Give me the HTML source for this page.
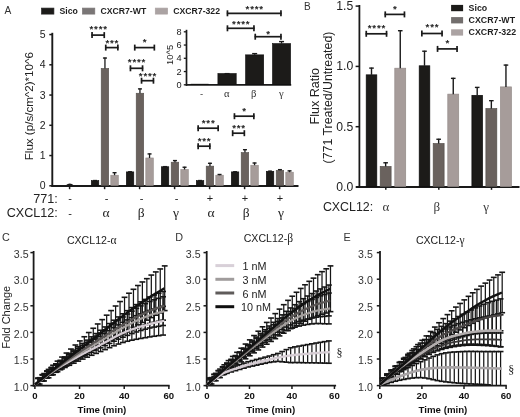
<!DOCTYPE html>
<html><head><meta charset="utf-8"><title>Figure</title>
<style>html,body{margin:0;padding:0;background:#fff;width:520px;height:417px;overflow:hidden}svg{display:block;font-family:"Liberation Sans",sans-serif}text{filter:grayscale(1)}</style>
</head><body>
<svg width="520" height="417" viewBox="0 0 520 417">
<rect width="520" height="417" fill="#ffffff"/>
<text x="4.6" y="14" font-size="10.2" fill="#333">A</text>
<rect x="41.6" y="8.1" width="12.3" height="6" fill="#1c1b19" stroke="#222" stroke-width="0.7"/>
<text x="59.5" y="14.3" font-size="8.7" font-weight="bold" fill="#1e1e1e">Sico</text>
<rect x="82.5" y="8.1" width="12.3" height="6" fill="#7a7676" stroke="#7a7676" stroke-width="0.7"/>
<text x="100.4" y="14.3" font-size="8.7" font-weight="bold" fill="#1e1e1e">CXCR7-WT</text>
<rect x="155.3" y="8.1" width="12.3" height="6" fill="#aba3a3" stroke="#aba3a3" stroke-width="0.7"/>
<text x="173.2" y="14.3" font-size="8.7" font-weight="bold" fill="#1e1e1e">CXCR7-322</text>
<line x1="52.3" y1="32.8" x2="52.3" y2="187" stroke="#1a1a1a" stroke-width="1.9" />
<line x1="51.4" y1="186" x2="298.5" y2="186" stroke="#1a1a1a" stroke-width="1.9" />
<line x1="49.3" y1="185.8" x2="52.3" y2="185.8" stroke="#1a1a1a" stroke-width="1.5" />
<text x="45.6" y="189.3" font-size="10.5" text-anchor="end" fill="#222">0</text>
<line x1="49.3" y1="155.55" x2="52.3" y2="155.55" stroke="#1a1a1a" stroke-width="1.5" />
<text x="45.6" y="159.05" font-size="10.5" text-anchor="end" fill="#222">1</text>
<line x1="49.3" y1="125.3" x2="52.3" y2="125.3" stroke="#1a1a1a" stroke-width="1.5" />
<text x="45.6" y="128.8" font-size="10.5" text-anchor="end" fill="#222">2</text>
<line x1="49.3" y1="95.05" x2="52.3" y2="95.05" stroke="#1a1a1a" stroke-width="1.5" />
<text x="45.6" y="98.55" font-size="10.5" text-anchor="end" fill="#222">3</text>
<line x1="49.3" y1="64.8" x2="52.3" y2="64.8" stroke="#1a1a1a" stroke-width="1.5" />
<text x="45.6" y="68.3" font-size="10.5" text-anchor="end" fill="#222">4</text>
<line x1="49.3" y1="34.55" x2="52.3" y2="34.55" stroke="#1a1a1a" stroke-width="1.5" />
<text x="45.6" y="38.05" font-size="10.5" text-anchor="end" fill="#222">5</text>
<text x="33" y="106.2" font-size="11.6" text-anchor="middle" fill="#222" transform="rotate(-90 33 106.2)">Flux (p/s/cm^2)*10^6</text>
<line x1="69.6" y1="186" x2="69.6" y2="189.2" stroke="#1a1a1a" stroke-width="1.5" />
<path d="M65.6 185.5 Q69.7 181.4 74.0 185.5 Z" fill="#1a1a1a"/>
<line x1="104.6" y1="186" x2="104.6" y2="189.2" stroke="#1a1a1a" stroke-width="1.5" />
<rect x="91.3" y="180.66" width="7.5" height="4.84" fill="#1c1b19" stroke="#0b0b0b" stroke-width="0.6"/>
<line x1="95.05" y1="180.66" x2="95.05" y2="180.05" stroke="#1a1a1a" stroke-width="1.3" />
<line x1="93.05" y1="180.55" x2="97.05" y2="180.55" stroke="#1a1a1a" stroke-width="1.4" />
<rect x="101.2" y="68.43" width="7.5" height="117.07" fill="#6a625e" stroke="#55504c" stroke-width="0.6"/>
<line x1="104.95" y1="68.43" x2="104.95" y2="57.54" stroke="#1a1a1a" stroke-width="1.3" />
<line x1="102.95" y1="58.04" x2="106.95" y2="58.04" stroke="#1a1a1a" stroke-width="1.4" />
<rect x="110.8" y="175.21" width="7.5" height="10.29" fill="#a69c9a" stroke="#938a88" stroke-width="0.6"/>
<line x1="114.55" y1="175.21" x2="114.55" y2="172.19" stroke="#1a1a1a" stroke-width="1.3" />
<line x1="112.55" y1="172.69" x2="116.55" y2="172.69" stroke="#1a1a1a" stroke-width="1.4" />
<line x1="139.6" y1="186" x2="139.6" y2="189.2" stroke="#1a1a1a" stroke-width="1.5" />
<rect x="126.3" y="171.89" width="7.5" height="13.61" fill="#1c1b19" stroke="#0b0b0b" stroke-width="0.6"/>
<line x1="130.05" y1="171.89" x2="130.05" y2="171.28" stroke="#1a1a1a" stroke-width="1.3" />
<line x1="128.05" y1="171.78" x2="132.05" y2="171.78" stroke="#1a1a1a" stroke-width="1.4" />
<rect x="136.2" y="93.24" width="7.5" height="92.26" fill="#6a625e" stroke="#55504c" stroke-width="0.6"/>
<line x1="139.95" y1="93.24" x2="139.95" y2="88.4" stroke="#1a1a1a" stroke-width="1.3" />
<line x1="137.95" y1="88.9" x2="141.95" y2="88.9" stroke="#1a1a1a" stroke-width="1.4" />
<rect x="145.8" y="157.97" width="7.5" height="27.53" fill="#a69c9a" stroke="#938a88" stroke-width="0.6"/>
<line x1="149.55" y1="157.97" x2="149.55" y2="153.43" stroke="#1a1a1a" stroke-width="1.3" />
<line x1="147.55" y1="153.93" x2="151.55" y2="153.93" stroke="#1a1a1a" stroke-width="1.4" />
<line x1="174.6" y1="186" x2="174.6" y2="189.2" stroke="#1a1a1a" stroke-width="1.5" />
<rect x="161.3" y="166.74" width="7.5" height="18.76" fill="#1c1b19" stroke="#0b0b0b" stroke-width="0.6"/>
<line x1="165.05" y1="166.74" x2="165.05" y2="166.14" stroke="#1a1a1a" stroke-width="1.3" />
<line x1="163.05" y1="166.64" x2="167.05" y2="166.64" stroke="#1a1a1a" stroke-width="1.4" />
<rect x="171.2" y="162.21" width="7.5" height="23.29" fill="#6a625e" stroke="#55504c" stroke-width="0.6"/>
<line x1="174.95" y1="162.21" x2="174.95" y2="160.09" stroke="#1a1a1a" stroke-width="1.3" />
<line x1="172.95" y1="160.59" x2="176.95" y2="160.59" stroke="#1a1a1a" stroke-width="1.4" />
<rect x="180.8" y="169.47" width="7.5" height="16.03" fill="#a69c9a" stroke="#938a88" stroke-width="0.6"/>
<line x1="184.55" y1="169.47" x2="184.55" y2="166.74" stroke="#1a1a1a" stroke-width="1.3" />
<line x1="182.55" y1="167.24" x2="186.55" y2="167.24" stroke="#1a1a1a" stroke-width="1.4" />
<line x1="209.6" y1="186" x2="209.6" y2="189.2" stroke="#1a1a1a" stroke-width="1.5" />
<rect x="196.3" y="180.66" width="7.5" height="4.84" fill="#1c1b19" stroke="#0b0b0b" stroke-width="0.6"/>
<line x1="200.05" y1="180.66" x2="200.05" y2="180.05" stroke="#1a1a1a" stroke-width="1.3" />
<line x1="198.05" y1="180.55" x2="202.05" y2="180.55" stroke="#1a1a1a" stroke-width="1.4" />
<rect x="206.2" y="166.14" width="7.5" height="19.36" fill="#6a625e" stroke="#55504c" stroke-width="0.6"/>
<line x1="209.95" y1="166.14" x2="209.95" y2="162.81" stroke="#1a1a1a" stroke-width="1.3" />
<line x1="207.95" y1="163.31" x2="211.95" y2="163.31" stroke="#1a1a1a" stroke-width="1.4" />
<rect x="215.8" y="175.21" width="7.5" height="10.29" fill="#a69c9a" stroke="#938a88" stroke-width="0.6"/>
<line x1="219.55" y1="175.21" x2="219.55" y2="174" stroke="#1a1a1a" stroke-width="1.3" />
<line x1="217.55" y1="174.5" x2="221.55" y2="174.5" stroke="#1a1a1a" stroke-width="1.4" />
<line x1="244.6" y1="186" x2="244.6" y2="189.2" stroke="#1a1a1a" stroke-width="1.5" />
<rect x="231.3" y="171.89" width="7.5" height="13.61" fill="#1c1b19" stroke="#0b0b0b" stroke-width="0.6"/>
<line x1="235.05" y1="171.89" x2="235.05" y2="171.28" stroke="#1a1a1a" stroke-width="1.3" />
<line x1="233.05" y1="171.78" x2="237.05" y2="171.78" stroke="#1a1a1a" stroke-width="1.4" />
<rect x="241.2" y="152.53" width="7.5" height="32.97" fill="#6a625e" stroke="#55504c" stroke-width="0.6"/>
<line x1="244.95" y1="152.53" x2="244.95" y2="149.2" stroke="#1a1a1a" stroke-width="1.3" />
<line x1="242.95" y1="149.7" x2="246.95" y2="149.7" stroke="#1a1a1a" stroke-width="1.4" />
<rect x="250.8" y="165.23" width="7.5" height="20.27" fill="#a69c9a" stroke="#938a88" stroke-width="0.6"/>
<line x1="254.55" y1="165.23" x2="254.55" y2="162.51" stroke="#1a1a1a" stroke-width="1.3" />
<line x1="252.55" y1="163.01" x2="256.55" y2="163.01" stroke="#1a1a1a" stroke-width="1.4" />
<line x1="279.6" y1="186" x2="279.6" y2="189.2" stroke="#1a1a1a" stroke-width="1.5" />
<rect x="266.3" y="171.28" width="7.5" height="14.22" fill="#1c1b19" stroke="#0b0b0b" stroke-width="0.6"/>
<line x1="270.05" y1="171.28" x2="270.05" y2="170.68" stroke="#1a1a1a" stroke-width="1.3" />
<line x1="268.05" y1="171.18" x2="272.05" y2="171.18" stroke="#1a1a1a" stroke-width="1.4" />
<rect x="276.2" y="170.37" width="7.5" height="15.13" fill="#6a625e" stroke="#55504c" stroke-width="0.6"/>
<line x1="279.95" y1="170.37" x2="279.95" y2="169.16" stroke="#1a1a1a" stroke-width="1.3" />
<line x1="277.95" y1="169.66" x2="281.95" y2="169.66" stroke="#1a1a1a" stroke-width="1.4" />
<rect x="285.8" y="172.19" width="7.5" height="13.31" fill="#a69c9a" stroke="#938a88" stroke-width="0.6"/>
<line x1="289.55" y1="172.19" x2="289.55" y2="170.37" stroke="#1a1a1a" stroke-width="1.3" />
<line x1="287.55" y1="170.87" x2="291.55" y2="170.87" stroke="#1a1a1a" stroke-width="1.4" />
<line x1="91.4" y1="35.1" x2="104.9" y2="35.1" stroke="#1a1a1a" stroke-width="1.7" />
<line x1="92.05" y1="32.1" x2="92.05" y2="38.1" stroke="#1a1a1a" stroke-width="1.7" />
<line x1="104.25" y1="32.1" x2="104.25" y2="38.1" stroke="#1a1a1a" stroke-width="1.7" />
<text x="98.65" y="31.6" font-size="9.8" text-anchor="middle" fill="#111" letter-spacing="0.75" stroke="#222" stroke-width="0.25">****</text>
<line x1="105.1" y1="47.6" x2="118.5" y2="47.6" stroke="#1a1a1a" stroke-width="1.7" />
<line x1="105.75" y1="44.6" x2="105.75" y2="50.6" stroke="#1a1a1a" stroke-width="1.7" />
<line x1="117.85" y1="44.6" x2="117.85" y2="50.6" stroke="#1a1a1a" stroke-width="1.7" />
<text x="112.3" y="45.7" font-size="9.8" text-anchor="middle" fill="#111" letter-spacing="0.75" stroke="#222" stroke-width="0.25">***</text>
<line x1="134.1" y1="47.6" x2="155" y2="47.6" stroke="#1a1a1a" stroke-width="1.7" />
<line x1="134.75" y1="44.6" x2="134.75" y2="50.6" stroke="#1a1a1a" stroke-width="1.7" />
<line x1="154.35" y1="44.6" x2="154.35" y2="50.6" stroke="#1a1a1a" stroke-width="1.7" />
<text x="145.05" y="45" font-size="9.8" text-anchor="middle" fill="#111" letter-spacing="0.75" stroke="#222" stroke-width="0.25">*</text>
<line x1="129.8" y1="68.3" x2="143.2" y2="68.3" stroke="#1a1a1a" stroke-width="1.7" />
<line x1="130.45" y1="65.3" x2="130.45" y2="71.3" stroke="#1a1a1a" stroke-width="1.7" />
<line x1="142.55" y1="65.3" x2="142.55" y2="71.3" stroke="#1a1a1a" stroke-width="1.7" />
<text x="137" y="65.2" font-size="9.8" text-anchor="middle" fill="#111" letter-spacing="0.75" stroke="#222" stroke-width="0.25">****</text>
<line x1="140.9" y1="80.7" x2="154.1" y2="80.7" stroke="#1a1a1a" stroke-width="1.7" />
<line x1="141.55" y1="77.7" x2="141.55" y2="83.7" stroke="#1a1a1a" stroke-width="1.7" />
<line x1="153.45" y1="77.7" x2="153.45" y2="83.7" stroke="#1a1a1a" stroke-width="1.7" />
<text x="148" y="78.6" font-size="9.8" text-anchor="middle" fill="#111" letter-spacing="0.75" stroke="#222" stroke-width="0.25">****</text>
<line x1="197.5" y1="146.2" x2="210.5" y2="146.2" stroke="#1a1a1a" stroke-width="1.7" />
<line x1="198.15" y1="143.2" x2="198.15" y2="149.2" stroke="#1a1a1a" stroke-width="1.7" />
<line x1="209.85" y1="143.2" x2="209.85" y2="149.2" stroke="#1a1a1a" stroke-width="1.7" />
<text x="204.5" y="144.2" font-size="9.8" text-anchor="middle" fill="#111" letter-spacing="0.75" stroke="#222" stroke-width="0.25">***</text>
<line x1="197.5" y1="128.2" x2="218.8" y2="128.2" stroke="#1a1a1a" stroke-width="1.7" />
<line x1="198.15" y1="125.2" x2="198.15" y2="131.2" stroke="#1a1a1a" stroke-width="1.7" />
<line x1="218.15" y1="125.2" x2="218.15" y2="131.2" stroke="#1a1a1a" stroke-width="1.7" />
<text x="208.65" y="126.2" font-size="9.8" text-anchor="middle" fill="#111" letter-spacing="0.75" stroke="#222" stroke-width="0.25">***</text>
<line x1="232" y1="133.2" x2="245" y2="133.2" stroke="#1a1a1a" stroke-width="1.7" />
<line x1="232.65" y1="130.2" x2="232.65" y2="136.2" stroke="#1a1a1a" stroke-width="1.7" />
<line x1="244.35" y1="130.2" x2="244.35" y2="136.2" stroke="#1a1a1a" stroke-width="1.7" />
<text x="239" y="131.2" font-size="9.8" text-anchor="middle" fill="#111" letter-spacing="0.75" stroke="#222" stroke-width="0.25">***</text>
<line x1="233.8" y1="116.2" x2="254.5" y2="116.2" stroke="#1a1a1a" stroke-width="1.7" />
<line x1="234.45" y1="113.2" x2="234.45" y2="119.2" stroke="#1a1a1a" stroke-width="1.7" />
<line x1="253.85" y1="113.2" x2="253.85" y2="119.2" stroke="#1a1a1a" stroke-width="1.7" />
<text x="244.65" y="113.9" font-size="9.8" text-anchor="middle" fill="#111" letter-spacing="0.75" stroke="#222" stroke-width="0.25">*</text>
<text x="57.8" y="202.7" font-size="12.6" text-anchor="end" fill="#222">771:</text>
<text x="57.8" y="217" font-size="12.6" text-anchor="end" fill="#222">CXCL12:</text>
<text x="70" y="202" font-size="11" text-anchor="middle" fill="#222">-</text>
<text x="70" y="216.5" font-size="11" text-anchor="middle" fill="#222">-</text>
<text x="106.6" y="202" font-size="11" text-anchor="middle" fill="#222">-</text>
<text x="106.1" y="216.5" font-size="13.5" font-family='"Liberation Serif", serif' text-anchor="middle" fill="#222">&#945;</text>
<text x="141.6" y="202" font-size="11" text-anchor="middle" fill="#222">-</text>
<text x="141.1" y="216.5" font-size="13.5" font-family='"Liberation Serif", serif' text-anchor="middle" fill="#222">&#946;</text>
<text x="176.6" y="202" font-size="11" text-anchor="middle" fill="#222">-</text>
<text x="176.1" y="216.5" font-size="13.5" font-family='"Liberation Serif", serif' text-anchor="middle" fill="#222">&#947;</text>
<text x="210" y="202" font-size="11" text-anchor="middle" fill="#222">+</text>
<text x="211.1" y="216.5" font-size="13.5" font-family='"Liberation Serif", serif' text-anchor="middle" fill="#222">&#945;</text>
<text x="245" y="202" font-size="11" text-anchor="middle" fill="#222">+</text>
<text x="246.1" y="216.5" font-size="13.5" font-family='"Liberation Serif", serif' text-anchor="middle" fill="#222">&#946;</text>
<text x="280" y="202" font-size="11" text-anchor="middle" fill="#222">+</text>
<text x="281.1" y="216.5" font-size="13.5" font-family='"Liberation Serif", serif' text-anchor="middle" fill="#222">&#947;</text>
<line x1="186.5" y1="29.8" x2="186.5" y2="85.8" stroke="#1a1a1a" stroke-width="1.7" />
<line x1="185.8" y1="84.9" x2="291.2" y2="84.9" stroke="#1a1a1a" stroke-width="1.8" />
<line x1="183.8" y1="84.8" x2="186.5" y2="84.8" stroke="#1a1a1a" stroke-width="1.3" />
<text x="181.6" y="87.9" font-size="9.2" text-anchor="end" fill="#222">0</text>
<line x1="183.8" y1="71.55" x2="186.5" y2="71.55" stroke="#1a1a1a" stroke-width="1.3" />
<text x="181.6" y="74.65" font-size="9.2" text-anchor="end" fill="#222">2</text>
<line x1="183.8" y1="58.3" x2="186.5" y2="58.3" stroke="#1a1a1a" stroke-width="1.3" />
<text x="181.6" y="61.4" font-size="9.2" text-anchor="end" fill="#222">4</text>
<line x1="183.8" y1="45.05" x2="186.5" y2="45.05" stroke="#1a1a1a" stroke-width="1.3" />
<text x="181.6" y="48.15" font-size="9.2" text-anchor="end" fill="#222">6</text>
<line x1="183.8" y1="31.8" x2="186.5" y2="31.8" stroke="#1a1a1a" stroke-width="1.3" />
<text x="181.6" y="34.9" font-size="9.2" text-anchor="end" fill="#222">8</text>
<text x="173" y="54.9" font-size="9.4" text-anchor="middle" fill="#222" transform="rotate(-90 173 54.9)">10^5</text>
<rect x="191" y="84.14" width="17.5" height="0.36" fill="#1c1b19" stroke="#0b0b0b" stroke-width="0.6"/>
<rect x="217.9" y="73.54" width="18.3" height="10.96" fill="#1c1b19" stroke="#0b0b0b" stroke-width="0.6"/>
<line x1="227.05" y1="73.54" x2="227.05" y2="73.14" stroke="#1a1a1a" stroke-width="1.3" />
<line x1="224.55" y1="73.64" x2="229.55" y2="73.64" stroke="#1a1a1a" stroke-width="1.4" />
<rect x="245.6" y="54.86" width="18.1" height="29.64" fill="#1c1b19" stroke="#0b0b0b" stroke-width="0.6"/>
<line x1="254.65" y1="54.86" x2="254.65" y2="53.13" stroke="#1a1a1a" stroke-width="1.3" />
<line x1="252.15" y1="53.63" x2="257.15" y2="53.63" stroke="#1a1a1a" stroke-width="1.4" />
<rect x="272.5" y="43.59" width="18.1" height="40.91" fill="#1c1b19" stroke="#0b0b0b" stroke-width="0.6"/>
<line x1="281.55" y1="43.59" x2="281.55" y2="41.08" stroke="#1a1a1a" stroke-width="1.3" />
<line x1="279.05" y1="41.58" x2="284.05" y2="41.58" stroke="#1a1a1a" stroke-width="1.4" />
<text x="201.6" y="97" font-size="9.5" text-anchor="middle" fill="#333">-</text>
<text x="226.7" y="96.8" font-size="10.6" font-family='"Liberation Serif", serif' text-anchor="middle" fill="#333">&#945;</text>
<text x="253.8" y="96.8" font-size="10.6" font-family='"Liberation Serif", serif' text-anchor="middle" fill="#333">&#946;</text>
<text x="281.4" y="96.8" font-size="10.6" font-family='"Liberation Serif", serif' text-anchor="middle" fill="#333">&#947;</text>
<line x1="226.8" y1="13.3" x2="281.6" y2="13.3" stroke="#1a1a1a" stroke-width="1.7" />
<line x1="227.45" y1="10.3" x2="227.45" y2="16.3" stroke="#1a1a1a" stroke-width="1.7" />
<line x1="280.95" y1="10.3" x2="280.95" y2="16.3" stroke="#1a1a1a" stroke-width="1.7" />
<text x="254.7" y="12.2" font-size="9.8" text-anchor="middle" fill="#111" letter-spacing="0.75" stroke="#222" stroke-width="0.25">****</text>
<line x1="226.8" y1="28.3" x2="254.6" y2="28.3" stroke="#1a1a1a" stroke-width="1.7" />
<line x1="227.45" y1="25.3" x2="227.45" y2="31.3" stroke="#1a1a1a" stroke-width="1.7" />
<line x1="253.95" y1="25.3" x2="253.95" y2="31.3" stroke="#1a1a1a" stroke-width="1.7" />
<text x="241.2" y="27.4" font-size="9.8" text-anchor="middle" fill="#111" letter-spacing="0.75" stroke="#222" stroke-width="0.25">****</text>
<line x1="254.6" y1="36.7" x2="281.6" y2="36.7" stroke="#1a1a1a" stroke-width="1.7" />
<line x1="255.25" y1="33.7" x2="255.25" y2="39.7" stroke="#1a1a1a" stroke-width="1.7" />
<line x1="280.95" y1="33.7" x2="280.95" y2="39.7" stroke="#1a1a1a" stroke-width="1.7" />
<text x="268.6" y="36.7" font-size="9.8" text-anchor="middle" fill="#111" letter-spacing="0.75" stroke="#222" stroke-width="0.25">*</text>
<text x="304" y="10" font-size="10" fill="#333">B</text>
<line x1="359.4" y1="5" x2="359.4" y2="188" stroke="#1a1a1a" stroke-width="1.8" />
<line x1="356" y1="187" x2="519.5" y2="187" stroke="#1a1a1a" stroke-width="1.8" />
<line x1="355.6" y1="187" x2="359.4" y2="187" stroke="#1a1a1a" stroke-width="1.5" />
<text x="353.2" y="190.9" font-size="12.2" text-anchor="end" fill="#222">0.0</text>
<line x1="355.6" y1="126.7" x2="359.4" y2="126.7" stroke="#1a1a1a" stroke-width="1.5" />
<text x="353.2" y="130.6" font-size="12.2" text-anchor="end" fill="#222">0.5</text>
<line x1="355.6" y1="66.4" x2="359.4" y2="66.4" stroke="#1a1a1a" stroke-width="1.5" />
<text x="353.2" y="70.3" font-size="12.2" text-anchor="end" fill="#222">1.0</text>
<line x1="355.6" y1="6.1" x2="359.4" y2="6.1" stroke="#1a1a1a" stroke-width="1.5" />
<text x="353.2" y="10" font-size="12.2" text-anchor="end" fill="#222">1.5</text>
<text x="318.8" y="96.2" font-size="12.6" text-anchor="middle" fill="#222" transform="rotate(-90 318.8 96.2)">Flux Ratio</text>
<text x="331.6" y="97.5" font-size="12.35" text-anchor="middle" fill="#222" transform="rotate(-90 331.6 97.5)">(771 Treated/Untreated)</text>
<line x1="385.8" y1="187" x2="385.8" y2="189.8" stroke="#1a1a1a" stroke-width="1.5" />
<rect x="366.2" y="74.84" width="10.6" height="111.66" fill="#1c1b19" stroke="#0b0b0b" stroke-width="0.7"/>
<line x1="371.5" y1="74.84" x2="371.5" y2="67.61" stroke="#1a1a1a" stroke-width="1.4" />
<line x1="369.2" y1="68.11" x2="373.8" y2="68.11" stroke="#1a1a1a" stroke-width="1.4" />
<rect x="380.2" y="166.5" width="10.9" height="20" fill="#6a625e" stroke="#55504c" stroke-width="0.7"/>
<line x1="385.65" y1="166.5" x2="385.65" y2="162.28" stroke="#1a1a1a" stroke-width="1.4" />
<line x1="383.35" y1="162.78" x2="387.95" y2="162.78" stroke="#1a1a1a" stroke-width="1.4" />
<rect x="394.8" y="68.21" width="10.9" height="118.29" fill="#a69c9a" stroke="#938a88" stroke-width="0.7"/>
<line x1="400.25" y1="68.21" x2="400.25" y2="30.22" stroke="#1a1a1a" stroke-width="1.4" />
<line x1="397.95" y1="30.72" x2="402.55" y2="30.72" stroke="#1a1a1a" stroke-width="1.4" />
<line x1="438.8" y1="187" x2="438.8" y2="189.8" stroke="#1a1a1a" stroke-width="1.5" />
<rect x="419.2" y="65.8" width="10.6" height="120.7" fill="#1c1b19" stroke="#0b0b0b" stroke-width="0.7"/>
<line x1="424.5" y1="65.8" x2="424.5" y2="50.72" stroke="#1a1a1a" stroke-width="1.4" />
<line x1="422.2" y1="51.22" x2="426.8" y2="51.22" stroke="#1a1a1a" stroke-width="1.4" />
<rect x="433.2" y="143.58" width="10.9" height="42.92" fill="#6a625e" stroke="#55504c" stroke-width="0.7"/>
<line x1="438.65" y1="143.58" x2="438.65" y2="138.76" stroke="#1a1a1a" stroke-width="1.4" />
<line x1="436.35" y1="139.26" x2="440.95" y2="139.26" stroke="#1a1a1a" stroke-width="1.4" />
<rect x="447.8" y="94.14" width="10.9" height="92.36" fill="#a69c9a" stroke="#938a88" stroke-width="0.7"/>
<line x1="453.25" y1="94.14" x2="453.25" y2="77.86" stroke="#1a1a1a" stroke-width="1.4" />
<line x1="450.95" y1="78.36" x2="455.55" y2="78.36" stroke="#1a1a1a" stroke-width="1.4" />
<line x1="491.5" y1="187" x2="491.5" y2="189.8" stroke="#1a1a1a" stroke-width="1.5" />
<rect x="471.9" y="95.34" width="10.6" height="91.16" fill="#1c1b19" stroke="#0b0b0b" stroke-width="0.7"/>
<line x1="477.2" y1="95.34" x2="477.2" y2="86.9" stroke="#1a1a1a" stroke-width="1.4" />
<line x1="474.9" y1="87.4" x2="479.5" y2="87.4" stroke="#1a1a1a" stroke-width="1.4" />
<rect x="485.9" y="108.61" width="10.9" height="77.89" fill="#6a625e" stroke="#55504c" stroke-width="0.7"/>
<line x1="491.35" y1="108.61" x2="491.35" y2="100.17" stroke="#1a1a1a" stroke-width="1.4" />
<line x1="489.05" y1="100.67" x2="493.65" y2="100.67" stroke="#1a1a1a" stroke-width="1.4" />
<rect x="500.5" y="86.9" width="10.9" height="99.6" fill="#a69c9a" stroke="#938a88" stroke-width="0.7"/>
<line x1="505.95" y1="86.9" x2="505.95" y2="64.59" stroke="#1a1a1a" stroke-width="1.4" />
<line x1="503.65" y1="65.09" x2="508.25" y2="65.09" stroke="#1a1a1a" stroke-width="1.4" />
<line x1="365.6" y1="33.8" x2="387.2" y2="33.8" stroke="#1a1a1a" stroke-width="1.7" />
<line x1="366.25" y1="30.8" x2="366.25" y2="36.8" stroke="#1a1a1a" stroke-width="1.7" />
<line x1="386.55" y1="30.8" x2="386.55" y2="36.8" stroke="#1a1a1a" stroke-width="1.7" />
<text x="376.9" y="31.4" font-size="9.8" text-anchor="middle" fill="#111" letter-spacing="0.75" stroke="#222" stroke-width="0.25">****</text>
<line x1="384.6" y1="14.4" x2="405.1" y2="14.4" stroke="#1a1a1a" stroke-width="1.7" />
<line x1="385.25" y1="11.4" x2="385.25" y2="17.4" stroke="#1a1a1a" stroke-width="1.7" />
<line x1="404.45" y1="11.4" x2="404.45" y2="17.4" stroke="#1a1a1a" stroke-width="1.7" />
<text x="395.35" y="12" font-size="9.8" text-anchor="middle" fill="#111" letter-spacing="0.75" stroke="#222" stroke-width="0.25">*</text>
<line x1="421.2" y1="33.5" x2="442.7" y2="33.5" stroke="#1a1a1a" stroke-width="1.7" />
<line x1="421.85" y1="30.5" x2="421.85" y2="36.5" stroke="#1a1a1a" stroke-width="1.7" />
<line x1="442.05" y1="30.5" x2="442.05" y2="36.5" stroke="#1a1a1a" stroke-width="1.7" />
<text x="432.45" y="30" font-size="9.8" text-anchor="middle" fill="#111" letter-spacing="0.75" stroke="#222" stroke-width="0.25">***</text>
<line x1="436.9" y1="48.9" x2="457.7" y2="48.9" stroke="#1a1a1a" stroke-width="1.7" />
<line x1="437.55" y1="45.9" x2="437.55" y2="51.9" stroke="#1a1a1a" stroke-width="1.7" />
<line x1="457.05" y1="45.9" x2="457.05" y2="51.9" stroke="#1a1a1a" stroke-width="1.7" />
<text x="447.8" y="46.4" font-size="9.8" text-anchor="middle" fill="#111" letter-spacing="0.75" stroke="#222" stroke-width="0.25">*</text>
<rect x="451.1" y="4.9" width="12" height="6.3" fill="#1c1b19"/>
<text x="468.6" y="10.8" font-size="8.8" font-weight="bold" fill="#1e1e1e">Sico</text>
<rect x="451.1" y="17.1" width="12" height="6.3" fill="#726e6d"/>
<text x="468.6" y="23" font-size="8.8" font-weight="bold" fill="#1e1e1e">CXCR7-WT</text>
<rect x="451.1" y="29.3" width="12" height="6.3" fill="#aba3a3"/>
<text x="468.6" y="35.2" font-size="8.8" font-weight="bold" fill="#1e1e1e">CXCR7-322</text>
<text x="373.2" y="210.9" font-size="12.4" text-anchor="end" fill="#222">CXCL12:</text>
<text x="385.9" y="210.6" font-size="13" font-family='"Liberation Serif", serif' text-anchor="middle" fill="#3a3a3a">&#945;</text>
<text x="436.9" y="210.6" font-size="13" font-family='"Liberation Serif", serif' text-anchor="middle" fill="#3a3a3a">&#946;</text>
<text x="486.2" y="210.6" font-size="13" font-family='"Liberation Serif", serif' text-anchor="middle" fill="#3a3a3a">&#947;</text>
<text x="2" y="241.3" font-size="10.8" fill="#333">C</text>
<text x="66.9" y="243.8" font-size="10.6" fill="#222">CXCL12-<tspan font-family='"Liberation Serif", serif' font-size="11.5">&#945;</tspan></text>
<line x1="33.6" y1="251" x2="33.6" y2="386.5" stroke="#1a1a1a" stroke-width="1.8" />
<line x1="32.7" y1="385.6" x2="169.6" y2="385.6" stroke="#1a1a1a" stroke-width="1.8" />
<line x1="30.4" y1="385.6" x2="33.6" y2="385.6" stroke="#1a1a1a" stroke-width="1.5" />
<text x="28.6" y="390.8" font-size="10.6" text-anchor="end" fill="#333">1.0</text>
<line x1="30.4" y1="359" x2="33.6" y2="359" stroke="#1a1a1a" stroke-width="1.5" />
<text x="28.6" y="364.2" font-size="10.6" text-anchor="end" fill="#333">1.5</text>
<line x1="30.4" y1="332.4" x2="33.6" y2="332.4" stroke="#1a1a1a" stroke-width="1.5" />
<text x="28.6" y="337.6" font-size="10.6" text-anchor="end" fill="#333">2.0</text>
<line x1="30.4" y1="305.8" x2="33.6" y2="305.8" stroke="#1a1a1a" stroke-width="1.5" />
<text x="28.6" y="311" font-size="10.6" text-anchor="end" fill="#333">2.5</text>
<line x1="30.4" y1="279.2" x2="33.6" y2="279.2" stroke="#1a1a1a" stroke-width="1.5" />
<text x="28.6" y="284.4" font-size="10.6" text-anchor="end" fill="#333">3.0</text>
<line x1="30.4" y1="252.6" x2="33.6" y2="252.6" stroke="#1a1a1a" stroke-width="1.5" />
<text x="28.6" y="257.8" font-size="10.6" text-anchor="end" fill="#333">3.5</text>
<line x1="34.9" y1="385.6" x2="34.9" y2="389" stroke="#1a1a1a" stroke-width="1.5" />
<text x="34.9" y="399.2" font-size="9.6" font-weight="bold" text-anchor="middle" fill="#111">0</text>
<line x1="79.56" y1="385.6" x2="79.56" y2="389" stroke="#1a1a1a" stroke-width="1.5" />
<text x="79.56" y="399.2" font-size="9.6" font-weight="bold" text-anchor="middle" fill="#111">20</text>
<line x1="124.22" y1="385.6" x2="124.22" y2="389" stroke="#1a1a1a" stroke-width="1.5" />
<text x="124.22" y="399.2" font-size="9.6" font-weight="bold" text-anchor="middle" fill="#111">40</text>
<line x1="168.88" y1="385.6" x2="168.88" y2="389" stroke="#1a1a1a" stroke-width="1.5" />
<text x="168.88" y="399.2" font-size="9.6" font-weight="bold" text-anchor="middle" fill="#111">60</text>
<text x="101.89" y="413" font-size="9.7" font-weight="bold" text-anchor="middle" fill="#111">Time (min)</text>
<line x1="38.07" y1="378.43" x2="38.07" y2="384.16" stroke="#161616" stroke-width="1.25" />
<line x1="35.17" y1="378.43" x2="40.97" y2="378.43" stroke="#161616" stroke-width="1.6" />
<line x1="35.17" y1="384.16" x2="40.97" y2="384.16" stroke="#161616" stroke-width="1.6" />
<line x1="42.53" y1="374.94" x2="42.53" y2="381.06" stroke="#161616" stroke-width="1.25" />
<line x1="39.63" y1="374.94" x2="45.43" y2="374.94" stroke="#161616" stroke-width="1.6" />
<line x1="39.63" y1="381.06" x2="45.43" y2="381.06" stroke="#161616" stroke-width="1.6" />
<line x1="47" y1="371.47" x2="47" y2="377.99" stroke="#161616" stroke-width="1.25" />
<line x1="44.1" y1="371.47" x2="49.9" y2="371.47" stroke="#161616" stroke-width="1.6" />
<line x1="44.1" y1="377.99" x2="49.9" y2="377.99" stroke="#161616" stroke-width="1.6" />
<line x1="51.46" y1="368.09" x2="51.46" y2="375.04" stroke="#161616" stroke-width="1.25" />
<line x1="48.56" y1="368.09" x2="54.36" y2="368.09" stroke="#161616" stroke-width="1.6" />
<line x1="48.56" y1="375.04" x2="54.36" y2="375.04" stroke="#161616" stroke-width="1.6" />
<line x1="55.93" y1="364.85" x2="55.93" y2="372.3" stroke="#161616" stroke-width="1.25" />
<line x1="53.03" y1="364.85" x2="58.83" y2="364.85" stroke="#161616" stroke-width="1.6" />
<line x1="53.03" y1="372.3" x2="58.83" y2="372.3" stroke="#161616" stroke-width="1.6" />
<line x1="60.4" y1="361.8" x2="60.4" y2="369.8" stroke="#161616" stroke-width="1.25" />
<line x1="57.5" y1="361.8" x2="63.3" y2="361.8" stroke="#161616" stroke-width="1.6" />
<line x1="57.5" y1="369.8" x2="63.3" y2="369.8" stroke="#161616" stroke-width="1.6" />
<line x1="64.86" y1="358.89" x2="64.86" y2="367.49" stroke="#161616" stroke-width="1.25" />
<line x1="61.96" y1="358.89" x2="67.76" y2="358.89" stroke="#161616" stroke-width="1.6" />
<line x1="61.96" y1="367.49" x2="67.76" y2="367.49" stroke="#161616" stroke-width="1.6" />
<line x1="69.33" y1="356.07" x2="69.33" y2="365.3" stroke="#161616" stroke-width="1.25" />
<line x1="66.43" y1="356.07" x2="72.23" y2="356.07" stroke="#161616" stroke-width="1.6" />
<line x1="66.43" y1="365.3" x2="72.23" y2="365.3" stroke="#161616" stroke-width="1.6" />
<line x1="73.79" y1="353.28" x2="73.79" y2="363.2" stroke="#161616" stroke-width="1.25" />
<line x1="70.89" y1="353.28" x2="76.69" y2="353.28" stroke="#161616" stroke-width="1.6" />
<line x1="70.89" y1="363.2" x2="76.69" y2="363.2" stroke="#161616" stroke-width="1.6" />
<line x1="78.26" y1="350.49" x2="78.26" y2="361.13" stroke="#161616" stroke-width="1.25" />
<line x1="75.36" y1="350.49" x2="81.16" y2="350.49" stroke="#161616" stroke-width="1.6" />
<line x1="75.36" y1="361.13" x2="81.16" y2="361.13" stroke="#161616" stroke-width="1.6" />
<line x1="82.73" y1="347.7" x2="82.73" y2="359.1" stroke="#161616" stroke-width="1.25" />
<line x1="79.83" y1="347.7" x2="85.63" y2="347.7" stroke="#161616" stroke-width="1.6" />
<line x1="79.83" y1="359.1" x2="85.63" y2="359.1" stroke="#161616" stroke-width="1.6" />
<line x1="87.19" y1="344.94" x2="87.19" y2="357.16" stroke="#161616" stroke-width="1.25" />
<line x1="84.29" y1="344.94" x2="90.09" y2="344.94" stroke="#161616" stroke-width="1.6" />
<line x1="84.29" y1="357.16" x2="90.09" y2="357.16" stroke="#161616" stroke-width="1.6" />
<line x1="91.66" y1="342.2" x2="91.66" y2="355.27" stroke="#161616" stroke-width="1.25" />
<line x1="88.76" y1="342.2" x2="94.56" y2="342.2" stroke="#161616" stroke-width="1.6" />
<line x1="88.76" y1="355.27" x2="94.56" y2="355.27" stroke="#161616" stroke-width="1.6" />
<line x1="96.12" y1="339.45" x2="96.12" y2="353.41" stroke="#161616" stroke-width="1.25" />
<line x1="93.22" y1="339.45" x2="99.02" y2="339.45" stroke="#161616" stroke-width="1.6" />
<line x1="93.22" y1="353.41" x2="99.02" y2="353.41" stroke="#161616" stroke-width="1.6" />
<line x1="100.59" y1="336.66" x2="100.59" y2="351.55" stroke="#161616" stroke-width="1.25" />
<line x1="97.69" y1="336.66" x2="103.49" y2="336.66" stroke="#161616" stroke-width="1.6" />
<line x1="97.69" y1="351.55" x2="103.49" y2="351.55" stroke="#161616" stroke-width="1.6" />
<line x1="105.06" y1="333.75" x2="105.06" y2="349.64" stroke="#161616" stroke-width="1.25" />
<line x1="102.16" y1="333.75" x2="107.96" y2="333.75" stroke="#161616" stroke-width="1.6" />
<line x1="102.16" y1="349.64" x2="107.96" y2="349.64" stroke="#161616" stroke-width="1.6" />
<line x1="109.52" y1="330.74" x2="109.52" y2="347.69" stroke="#161616" stroke-width="1.25" />
<line x1="106.62" y1="330.74" x2="112.42" y2="330.74" stroke="#161616" stroke-width="1.6" />
<line x1="106.62" y1="347.69" x2="112.42" y2="347.69" stroke="#161616" stroke-width="1.6" />
<line x1="113.99" y1="327.76" x2="113.99" y2="345.79" stroke="#161616" stroke-width="1.25" />
<line x1="111.09" y1="327.76" x2="116.89" y2="327.76" stroke="#161616" stroke-width="1.6" />
<line x1="111.09" y1="345.79" x2="116.89" y2="345.79" stroke="#161616" stroke-width="1.6" />
<line x1="118.45" y1="324.9" x2="118.45" y2="344.04" stroke="#161616" stroke-width="1.25" />
<line x1="115.55" y1="324.9" x2="121.35" y2="324.9" stroke="#161616" stroke-width="1.6" />
<line x1="115.55" y1="344.04" x2="121.35" y2="344.04" stroke="#161616" stroke-width="1.6" />
<line x1="122.92" y1="322.29" x2="122.92" y2="342.51" stroke="#161616" stroke-width="1.25" />
<line x1="120.02" y1="322.29" x2="125.82" y2="322.29" stroke="#161616" stroke-width="1.6" />
<line x1="120.02" y1="342.51" x2="125.82" y2="342.51" stroke="#161616" stroke-width="1.6" />
<line x1="127.39" y1="319.93" x2="127.39" y2="341.24" stroke="#161616" stroke-width="1.25" />
<line x1="124.49" y1="319.93" x2="130.29" y2="319.93" stroke="#161616" stroke-width="1.6" />
<line x1="124.49" y1="341.24" x2="130.29" y2="341.24" stroke="#161616" stroke-width="1.6" />
<line x1="131.85" y1="317.74" x2="131.85" y2="340.18" stroke="#161616" stroke-width="1.25" />
<line x1="128.95" y1="317.74" x2="134.75" y2="317.74" stroke="#161616" stroke-width="1.6" />
<line x1="128.95" y1="340.18" x2="134.75" y2="340.18" stroke="#161616" stroke-width="1.6" />
<line x1="136.32" y1="315.72" x2="136.32" y2="339.28" stroke="#161616" stroke-width="1.25" />
<line x1="133.42" y1="315.72" x2="139.22" y2="315.72" stroke="#161616" stroke-width="1.6" />
<line x1="133.42" y1="339.28" x2="139.22" y2="339.28" stroke="#161616" stroke-width="1.6" />
<line x1="140.78" y1="313.87" x2="140.78" y2="338.47" stroke="#161616" stroke-width="1.25" />
<line x1="137.88" y1="313.87" x2="143.68" y2="313.87" stroke="#161616" stroke-width="1.6" />
<line x1="137.88" y1="338.47" x2="143.68" y2="338.47" stroke="#161616" stroke-width="1.6" />
<line x1="145.25" y1="312.18" x2="145.25" y2="337.72" stroke="#161616" stroke-width="1.25" />
<line x1="142.35" y1="312.18" x2="148.15" y2="312.18" stroke="#161616" stroke-width="1.6" />
<line x1="142.35" y1="337.72" x2="148.15" y2="337.72" stroke="#161616" stroke-width="1.6" />
<line x1="149.72" y1="310.42" x2="149.72" y2="336.91" stroke="#161616" stroke-width="1.25" />
<line x1="146.82" y1="310.42" x2="152.62" y2="310.42" stroke="#161616" stroke-width="1.6" />
<line x1="146.82" y1="336.91" x2="152.62" y2="336.91" stroke="#161616" stroke-width="1.6" />
<line x1="154.18" y1="308.99" x2="154.18" y2="336.26" stroke="#161616" stroke-width="1.25" />
<line x1="151.28" y1="308.99" x2="157.08" y2="308.99" stroke="#161616" stroke-width="1.6" />
<line x1="151.28" y1="336.26" x2="157.08" y2="336.26" stroke="#161616" stroke-width="1.6" />
<line x1="158.65" y1="307.7" x2="158.65" y2="335.68" stroke="#161616" stroke-width="1.25" />
<line x1="155.75" y1="307.7" x2="161.55" y2="307.7" stroke="#161616" stroke-width="1.6" />
<line x1="155.75" y1="335.68" x2="161.55" y2="335.68" stroke="#161616" stroke-width="1.6" />
<line x1="163.11" y1="306.33" x2="163.11" y2="335.06" stroke="#161616" stroke-width="1.25" />
<line x1="160.21" y1="306.33" x2="166.01" y2="306.33" stroke="#161616" stroke-width="1.6" />
<line x1="160.21" y1="335.06" x2="166.01" y2="335.06" stroke="#161616" stroke-width="1.6" />
<line x1="38.07" y1="378.34" x2="38.07" y2="384.07" stroke="#161616" stroke-width="1.25" />
<line x1="35.17" y1="378.34" x2="40.97" y2="378.34" stroke="#161616" stroke-width="1.6" />
<line x1="35.17" y1="384.07" x2="40.97" y2="384.07" stroke="#161616" stroke-width="1.6" />
<line x1="42.53" y1="374.78" x2="42.53" y2="380.9" stroke="#161616" stroke-width="1.25" />
<line x1="39.63" y1="374.78" x2="45.43" y2="374.78" stroke="#161616" stroke-width="1.6" />
<line x1="39.63" y1="380.9" x2="45.43" y2="380.9" stroke="#161616" stroke-width="1.6" />
<line x1="47" y1="371.23" x2="47" y2="377.75" stroke="#161616" stroke-width="1.25" />
<line x1="44.1" y1="371.23" x2="49.9" y2="371.23" stroke="#161616" stroke-width="1.6" />
<line x1="44.1" y1="377.75" x2="49.9" y2="377.75" stroke="#161616" stroke-width="1.6" />
<line x1="51.46" y1="367.73" x2="51.46" y2="374.68" stroke="#161616" stroke-width="1.25" />
<line x1="48.56" y1="367.73" x2="54.36" y2="367.73" stroke="#161616" stroke-width="1.6" />
<line x1="48.56" y1="374.68" x2="54.36" y2="374.68" stroke="#161616" stroke-width="1.6" />
<line x1="55.93" y1="364.32" x2="55.93" y2="371.77" stroke="#161616" stroke-width="1.25" />
<line x1="53.03" y1="364.32" x2="58.83" y2="364.32" stroke="#161616" stroke-width="1.6" />
<line x1="53.03" y1="371.77" x2="58.83" y2="371.77" stroke="#161616" stroke-width="1.6" />
<line x1="60.4" y1="361.02" x2="60.4" y2="369.02" stroke="#161616" stroke-width="1.25" />
<line x1="57.5" y1="361.02" x2="63.3" y2="361.02" stroke="#161616" stroke-width="1.6" />
<line x1="57.5" y1="369.02" x2="63.3" y2="369.02" stroke="#161616" stroke-width="1.6" />
<line x1="64.86" y1="357.8" x2="64.86" y2="366.39" stroke="#161616" stroke-width="1.25" />
<line x1="61.96" y1="357.8" x2="67.76" y2="357.8" stroke="#161616" stroke-width="1.6" />
<line x1="61.96" y1="366.39" x2="67.76" y2="366.39" stroke="#161616" stroke-width="1.6" />
<line x1="69.33" y1="354.63" x2="69.33" y2="363.86" stroke="#161616" stroke-width="1.25" />
<line x1="66.43" y1="354.63" x2="72.23" y2="354.63" stroke="#161616" stroke-width="1.6" />
<line x1="66.43" y1="363.86" x2="72.23" y2="363.86" stroke="#161616" stroke-width="1.6" />
<line x1="73.79" y1="351.49" x2="73.79" y2="361.41" stroke="#161616" stroke-width="1.25" />
<line x1="70.89" y1="351.49" x2="76.69" y2="351.49" stroke="#161616" stroke-width="1.6" />
<line x1="70.89" y1="361.41" x2="76.69" y2="361.41" stroke="#161616" stroke-width="1.6" />
<line x1="78.26" y1="348.36" x2="78.26" y2="359" stroke="#161616" stroke-width="1.25" />
<line x1="75.36" y1="348.36" x2="81.16" y2="348.36" stroke="#161616" stroke-width="1.6" />
<line x1="75.36" y1="359" x2="81.16" y2="359" stroke="#161616" stroke-width="1.6" />
<line x1="82.73" y1="345.25" x2="82.73" y2="356.65" stroke="#161616" stroke-width="1.25" />
<line x1="79.83" y1="345.25" x2="85.63" y2="345.25" stroke="#161616" stroke-width="1.6" />
<line x1="79.83" y1="356.65" x2="85.63" y2="356.65" stroke="#161616" stroke-width="1.6" />
<line x1="87.19" y1="342.18" x2="87.19" y2="354.39" stroke="#161616" stroke-width="1.25" />
<line x1="84.29" y1="342.18" x2="90.09" y2="342.18" stroke="#161616" stroke-width="1.6" />
<line x1="84.29" y1="354.39" x2="90.09" y2="354.39" stroke="#161616" stroke-width="1.6" />
<line x1="91.66" y1="339.12" x2="91.66" y2="352.18" stroke="#161616" stroke-width="1.25" />
<line x1="88.76" y1="339.12" x2="94.56" y2="339.12" stroke="#161616" stroke-width="1.6" />
<line x1="88.76" y1="352.18" x2="94.56" y2="352.18" stroke="#161616" stroke-width="1.6" />
<line x1="96.12" y1="336.04" x2="96.12" y2="350" stroke="#161616" stroke-width="1.25" />
<line x1="93.22" y1="336.04" x2="99.02" y2="336.04" stroke="#161616" stroke-width="1.6" />
<line x1="93.22" y1="350" x2="99.02" y2="350" stroke="#161616" stroke-width="1.6" />
<line x1="100.59" y1="332.93" x2="100.59" y2="347.83" stroke="#161616" stroke-width="1.25" />
<line x1="97.69" y1="332.93" x2="103.49" y2="332.93" stroke="#161616" stroke-width="1.6" />
<line x1="97.69" y1="347.83" x2="103.49" y2="347.83" stroke="#161616" stroke-width="1.6" />
<line x1="105.06" y1="329.73" x2="105.06" y2="345.62" stroke="#161616" stroke-width="1.25" />
<line x1="102.16" y1="329.73" x2="107.96" y2="329.73" stroke="#161616" stroke-width="1.6" />
<line x1="102.16" y1="345.62" x2="107.96" y2="345.62" stroke="#161616" stroke-width="1.6" />
<line x1="109.52" y1="326.46" x2="109.52" y2="343.41" stroke="#161616" stroke-width="1.25" />
<line x1="106.62" y1="326.46" x2="112.42" y2="326.46" stroke="#161616" stroke-width="1.6" />
<line x1="106.62" y1="343.41" x2="112.42" y2="343.41" stroke="#161616" stroke-width="1.6" />
<line x1="113.99" y1="323.19" x2="113.99" y2="341.23" stroke="#161616" stroke-width="1.25" />
<line x1="111.09" y1="323.19" x2="116.89" y2="323.19" stroke="#161616" stroke-width="1.6" />
<line x1="111.09" y1="341.23" x2="116.89" y2="341.23" stroke="#161616" stroke-width="1.6" />
<line x1="118.45" y1="320" x2="118.45" y2="339.14" stroke="#161616" stroke-width="1.25" />
<line x1="115.55" y1="320" x2="121.35" y2="320" stroke="#161616" stroke-width="1.6" />
<line x1="115.55" y1="339.14" x2="121.35" y2="339.14" stroke="#161616" stroke-width="1.6" />
<line x1="122.92" y1="316.97" x2="122.92" y2="337.19" stroke="#161616" stroke-width="1.25" />
<line x1="120.02" y1="316.97" x2="125.82" y2="316.97" stroke="#161616" stroke-width="1.6" />
<line x1="120.02" y1="337.19" x2="125.82" y2="337.19" stroke="#161616" stroke-width="1.6" />
<line x1="127.39" y1="314.04" x2="127.39" y2="335.35" stroke="#161616" stroke-width="1.25" />
<line x1="124.49" y1="314.04" x2="130.29" y2="314.04" stroke="#161616" stroke-width="1.6" />
<line x1="124.49" y1="335.35" x2="130.29" y2="335.35" stroke="#161616" stroke-width="1.6" />
<line x1="131.85" y1="311.15" x2="131.85" y2="333.6" stroke="#161616" stroke-width="1.25" />
<line x1="128.95" y1="311.15" x2="134.75" y2="311.15" stroke="#161616" stroke-width="1.6" />
<line x1="128.95" y1="333.6" x2="134.75" y2="333.6" stroke="#161616" stroke-width="1.6" />
<line x1="136.32" y1="308.4" x2="136.32" y2="331.97" stroke="#161616" stroke-width="1.25" />
<line x1="133.42" y1="308.4" x2="139.22" y2="308.4" stroke="#161616" stroke-width="1.6" />
<line x1="133.42" y1="331.97" x2="139.22" y2="331.97" stroke="#161616" stroke-width="1.6" />
<line x1="140.78" y1="305.88" x2="140.78" y2="330.49" stroke="#161616" stroke-width="1.25" />
<line x1="137.88" y1="305.88" x2="143.68" y2="305.88" stroke="#161616" stroke-width="1.6" />
<line x1="137.88" y1="330.49" x2="143.68" y2="330.49" stroke="#161616" stroke-width="1.6" />
<line x1="145.25" y1="303.67" x2="145.25" y2="329.21" stroke="#161616" stroke-width="1.25" />
<line x1="142.35" y1="303.67" x2="148.15" y2="303.67" stroke="#161616" stroke-width="1.6" />
<line x1="142.35" y1="329.21" x2="148.15" y2="329.21" stroke="#161616" stroke-width="1.6" />
<line x1="149.72" y1="301.49" x2="149.72" y2="327.98" stroke="#161616" stroke-width="1.25" />
<line x1="146.82" y1="301.49" x2="152.62" y2="301.49" stroke="#161616" stroke-width="1.6" />
<line x1="146.82" y1="327.98" x2="152.62" y2="327.98" stroke="#161616" stroke-width="1.6" />
<line x1="154.18" y1="299.82" x2="154.18" y2="327.08" stroke="#161616" stroke-width="1.25" />
<line x1="151.28" y1="299.82" x2="157.08" y2="299.82" stroke="#161616" stroke-width="1.6" />
<line x1="151.28" y1="327.08" x2="157.08" y2="327.08" stroke="#161616" stroke-width="1.6" />
<line x1="158.65" y1="298.34" x2="158.65" y2="326.32" stroke="#161616" stroke-width="1.25" />
<line x1="155.75" y1="298.34" x2="161.55" y2="298.34" stroke="#161616" stroke-width="1.6" />
<line x1="155.75" y1="326.32" x2="161.55" y2="326.32" stroke="#161616" stroke-width="1.6" />
<line x1="163.11" y1="296.76" x2="163.11" y2="325.48" stroke="#161616" stroke-width="1.25" />
<line x1="160.21" y1="296.76" x2="166.01" y2="296.76" stroke="#161616" stroke-width="1.6" />
<line x1="160.21" y1="325.48" x2="166.01" y2="325.48" stroke="#161616" stroke-width="1.6" />
<line x1="38.07" y1="378.24" x2="38.07" y2="383.97" stroke="#161616" stroke-width="1.25" />
<line x1="35.17" y1="378.24" x2="40.97" y2="378.24" stroke="#161616" stroke-width="1.6" />
<line x1="35.17" y1="383.97" x2="40.97" y2="383.97" stroke="#161616" stroke-width="1.6" />
<line x1="42.53" y1="374.59" x2="42.53" y2="380.71" stroke="#161616" stroke-width="1.25" />
<line x1="39.63" y1="374.59" x2="45.43" y2="374.59" stroke="#161616" stroke-width="1.6" />
<line x1="39.63" y1="380.71" x2="45.43" y2="380.71" stroke="#161616" stroke-width="1.6" />
<line x1="47" y1="370.95" x2="47" y2="377.47" stroke="#161616" stroke-width="1.25" />
<line x1="44.1" y1="370.95" x2="49.9" y2="370.95" stroke="#161616" stroke-width="1.6" />
<line x1="44.1" y1="377.47" x2="49.9" y2="377.47" stroke="#161616" stroke-width="1.6" />
<line x1="51.46" y1="367.34" x2="51.46" y2="374.29" stroke="#161616" stroke-width="1.25" />
<line x1="48.56" y1="367.34" x2="54.36" y2="367.34" stroke="#161616" stroke-width="1.6" />
<line x1="48.56" y1="374.29" x2="54.36" y2="374.29" stroke="#161616" stroke-width="1.6" />
<line x1="55.93" y1="363.79" x2="55.93" y2="371.24" stroke="#161616" stroke-width="1.25" />
<line x1="53.03" y1="363.79" x2="58.83" y2="363.79" stroke="#161616" stroke-width="1.6" />
<line x1="53.03" y1="371.24" x2="58.83" y2="371.24" stroke="#161616" stroke-width="1.6" />
<line x1="60.4" y1="360.31" x2="60.4" y2="368.31" stroke="#161616" stroke-width="1.25" />
<line x1="57.5" y1="360.31" x2="63.3" y2="360.31" stroke="#161616" stroke-width="1.6" />
<line x1="57.5" y1="368.31" x2="63.3" y2="368.31" stroke="#161616" stroke-width="1.6" />
<line x1="64.86" y1="356.88" x2="64.86" y2="365.47" stroke="#161616" stroke-width="1.25" />
<line x1="61.96" y1="356.88" x2="67.76" y2="356.88" stroke="#161616" stroke-width="1.6" />
<line x1="61.96" y1="365.47" x2="67.76" y2="365.47" stroke="#161616" stroke-width="1.6" />
<line x1="69.33" y1="353.48" x2="69.33" y2="362.72" stroke="#161616" stroke-width="1.25" />
<line x1="66.43" y1="353.48" x2="72.23" y2="353.48" stroke="#161616" stroke-width="1.6" />
<line x1="66.43" y1="362.72" x2="72.23" y2="362.72" stroke="#161616" stroke-width="1.6" />
<line x1="73.79" y1="350.12" x2="73.79" y2="360.03" stroke="#161616" stroke-width="1.25" />
<line x1="70.89" y1="350.12" x2="76.69" y2="350.12" stroke="#161616" stroke-width="1.6" />
<line x1="70.89" y1="360.03" x2="76.69" y2="360.03" stroke="#161616" stroke-width="1.6" />
<line x1="78.26" y1="346.76" x2="78.26" y2="357.4" stroke="#161616" stroke-width="1.25" />
<line x1="75.36" y1="346.76" x2="81.16" y2="346.76" stroke="#161616" stroke-width="1.6" />
<line x1="75.36" y1="357.4" x2="81.16" y2="357.4" stroke="#161616" stroke-width="1.6" />
<line x1="82.73" y1="343.43" x2="82.73" y2="354.84" stroke="#161616" stroke-width="1.25" />
<line x1="79.83" y1="343.43" x2="85.63" y2="343.43" stroke="#161616" stroke-width="1.6" />
<line x1="79.83" y1="354.84" x2="85.63" y2="354.84" stroke="#161616" stroke-width="1.6" />
<line x1="87.19" y1="340.13" x2="87.19" y2="352.34" stroke="#161616" stroke-width="1.25" />
<line x1="84.29" y1="340.13" x2="90.09" y2="340.13" stroke="#161616" stroke-width="1.6" />
<line x1="84.29" y1="352.34" x2="90.09" y2="352.34" stroke="#161616" stroke-width="1.6" />
<line x1="91.66" y1="336.84" x2="91.66" y2="349.91" stroke="#161616" stroke-width="1.25" />
<line x1="88.76" y1="336.84" x2="94.56" y2="336.84" stroke="#161616" stroke-width="1.6" />
<line x1="88.76" y1="349.91" x2="94.56" y2="349.91" stroke="#161616" stroke-width="1.6" />
<line x1="96.12" y1="333.56" x2="96.12" y2="347.52" stroke="#161616" stroke-width="1.25" />
<line x1="93.22" y1="333.56" x2="99.02" y2="333.56" stroke="#161616" stroke-width="1.6" />
<line x1="93.22" y1="347.52" x2="99.02" y2="347.52" stroke="#161616" stroke-width="1.6" />
<line x1="100.59" y1="330.27" x2="100.59" y2="345.17" stroke="#161616" stroke-width="1.25" />
<line x1="97.69" y1="330.27" x2="103.49" y2="330.27" stroke="#161616" stroke-width="1.6" />
<line x1="97.69" y1="345.17" x2="103.49" y2="345.17" stroke="#161616" stroke-width="1.6" />
<line x1="105.06" y1="326.94" x2="105.06" y2="342.83" stroke="#161616" stroke-width="1.25" />
<line x1="102.16" y1="326.94" x2="107.96" y2="326.94" stroke="#161616" stroke-width="1.6" />
<line x1="102.16" y1="342.83" x2="107.96" y2="342.83" stroke="#161616" stroke-width="1.6" />
<line x1="109.52" y1="323.57" x2="109.52" y2="340.52" stroke="#161616" stroke-width="1.25" />
<line x1="106.62" y1="323.57" x2="112.42" y2="323.57" stroke="#161616" stroke-width="1.6" />
<line x1="106.62" y1="340.52" x2="112.42" y2="340.52" stroke="#161616" stroke-width="1.6" />
<line x1="113.99" y1="320.22" x2="113.99" y2="338.26" stroke="#161616" stroke-width="1.25" />
<line x1="111.09" y1="320.22" x2="116.89" y2="320.22" stroke="#161616" stroke-width="1.6" />
<line x1="111.09" y1="338.26" x2="116.89" y2="338.26" stroke="#161616" stroke-width="1.6" />
<line x1="118.45" y1="316.94" x2="118.45" y2="336.08" stroke="#161616" stroke-width="1.25" />
<line x1="115.55" y1="316.94" x2="121.35" y2="316.94" stroke="#161616" stroke-width="1.6" />
<line x1="115.55" y1="336.08" x2="121.35" y2="336.08" stroke="#161616" stroke-width="1.6" />
<line x1="122.92" y1="313.78" x2="122.92" y2="334" stroke="#161616" stroke-width="1.25" />
<line x1="120.02" y1="313.78" x2="125.82" y2="313.78" stroke="#161616" stroke-width="1.6" />
<line x1="120.02" y1="334" x2="125.82" y2="334" stroke="#161616" stroke-width="1.6" />
<line x1="127.39" y1="310.67" x2="127.39" y2="331.98" stroke="#161616" stroke-width="1.25" />
<line x1="124.49" y1="310.67" x2="130.29" y2="310.67" stroke="#161616" stroke-width="1.6" />
<line x1="124.49" y1="331.98" x2="130.29" y2="331.98" stroke="#161616" stroke-width="1.6" />
<line x1="131.85" y1="307.57" x2="131.85" y2="330.02" stroke="#161616" stroke-width="1.25" />
<line x1="128.95" y1="307.57" x2="134.75" y2="307.57" stroke="#161616" stroke-width="1.6" />
<line x1="128.95" y1="330.02" x2="134.75" y2="330.02" stroke="#161616" stroke-width="1.6" />
<line x1="136.32" y1="304.6" x2="136.32" y2="328.16" stroke="#161616" stroke-width="1.25" />
<line x1="133.42" y1="304.6" x2="139.22" y2="304.6" stroke="#161616" stroke-width="1.6" />
<line x1="133.42" y1="328.16" x2="139.22" y2="328.16" stroke="#161616" stroke-width="1.6" />
<line x1="140.78" y1="301.85" x2="140.78" y2="326.45" stroke="#161616" stroke-width="1.25" />
<line x1="137.88" y1="301.85" x2="143.68" y2="301.85" stroke="#161616" stroke-width="1.6" />
<line x1="137.88" y1="326.45" x2="143.68" y2="326.45" stroke="#161616" stroke-width="1.6" />
<line x1="145.25" y1="299.42" x2="145.25" y2="324.95" stroke="#161616" stroke-width="1.25" />
<line x1="142.35" y1="299.42" x2="148.15" y2="299.42" stroke="#161616" stroke-width="1.6" />
<line x1="142.35" y1="324.95" x2="148.15" y2="324.95" stroke="#161616" stroke-width="1.6" />
<line x1="149.72" y1="296.97" x2="149.72" y2="323.46" stroke="#161616" stroke-width="1.25" />
<line x1="146.82" y1="296.97" x2="152.62" y2="296.97" stroke="#161616" stroke-width="1.6" />
<line x1="146.82" y1="323.46" x2="152.62" y2="323.46" stroke="#161616" stroke-width="1.6" />
<line x1="154.18" y1="295.03" x2="154.18" y2="322.29" stroke="#161616" stroke-width="1.25" />
<line x1="151.28" y1="295.03" x2="157.08" y2="295.03" stroke="#161616" stroke-width="1.6" />
<line x1="151.28" y1="322.29" x2="157.08" y2="322.29" stroke="#161616" stroke-width="1.6" />
<line x1="158.65" y1="293.28" x2="158.65" y2="321.26" stroke="#161616" stroke-width="1.25" />
<line x1="155.75" y1="293.28" x2="161.55" y2="293.28" stroke="#161616" stroke-width="1.6" />
<line x1="155.75" y1="321.26" x2="161.55" y2="321.26" stroke="#161616" stroke-width="1.6" />
<line x1="163.11" y1="291.44" x2="163.11" y2="320.16" stroke="#161616" stroke-width="1.25" />
<line x1="160.21" y1="291.44" x2="166.01" y2="291.44" stroke="#161616" stroke-width="1.6" />
<line x1="160.21" y1="320.16" x2="166.01" y2="320.16" stroke="#161616" stroke-width="1.6" />
<line x1="39.67" y1="377.72" x2="39.67" y2="384.08" stroke="#161616" stroke-width="1.25" />
<line x1="36.77" y1="377.72" x2="42.57" y2="377.72" stroke="#161616" stroke-width="1.6" />
<line x1="36.77" y1="384.08" x2="42.57" y2="384.08" stroke="#161616" stroke-width="1.6" />
<line x1="44.13" y1="373.55" x2="44.13" y2="380.95" stroke="#161616" stroke-width="1.25" />
<line x1="41.23" y1="373.55" x2="47.03" y2="373.55" stroke="#161616" stroke-width="1.6" />
<line x1="41.23" y1="380.95" x2="47.03" y2="380.95" stroke="#161616" stroke-width="1.6" />
<line x1="48.6" y1="369.39" x2="48.6" y2="377.82" stroke="#161616" stroke-width="1.25" />
<line x1="45.7" y1="369.39" x2="51.5" y2="369.39" stroke="#161616" stroke-width="1.6" />
<line x1="45.7" y1="377.82" x2="51.5" y2="377.82" stroke="#161616" stroke-width="1.6" />
<line x1="53.06" y1="365.24" x2="53.06" y2="374.75" stroke="#161616" stroke-width="1.25" />
<line x1="50.16" y1="365.24" x2="55.96" y2="365.24" stroke="#161616" stroke-width="1.6" />
<line x1="50.16" y1="374.75" x2="55.96" y2="374.75" stroke="#161616" stroke-width="1.6" />
<line x1="57.53" y1="361.13" x2="57.53" y2="371.77" stroke="#161616" stroke-width="1.25" />
<line x1="54.63" y1="361.13" x2="60.43" y2="361.13" stroke="#161616" stroke-width="1.6" />
<line x1="54.63" y1="371.77" x2="60.43" y2="371.77" stroke="#161616" stroke-width="1.6" />
<line x1="62" y1="357.07" x2="62" y2="368.88" stroke="#161616" stroke-width="1.25" />
<line x1="59.1" y1="357.07" x2="64.9" y2="357.07" stroke="#161616" stroke-width="1.6" />
<line x1="59.1" y1="368.88" x2="64.9" y2="368.88" stroke="#161616" stroke-width="1.6" />
<line x1="66.46" y1="353.05" x2="66.46" y2="366.07" stroke="#161616" stroke-width="1.25" />
<line x1="63.56" y1="353.05" x2="69.36" y2="353.05" stroke="#161616" stroke-width="1.6" />
<line x1="63.56" y1="366.07" x2="69.36" y2="366.07" stroke="#161616" stroke-width="1.6" />
<line x1="70.93" y1="349.05" x2="70.93" y2="363.32" stroke="#161616" stroke-width="1.25" />
<line x1="68.03" y1="349.05" x2="73.83" y2="349.05" stroke="#161616" stroke-width="1.6" />
<line x1="68.03" y1="363.32" x2="73.83" y2="363.32" stroke="#161616" stroke-width="1.6" />
<line x1="75.39" y1="345.01" x2="75.39" y2="360.61" stroke="#161616" stroke-width="1.25" />
<line x1="72.49" y1="345.01" x2="78.29" y2="345.01" stroke="#161616" stroke-width="1.6" />
<line x1="72.49" y1="360.61" x2="78.29" y2="360.61" stroke="#161616" stroke-width="1.6" />
<line x1="79.86" y1="340.91" x2="79.86" y2="357.94" stroke="#161616" stroke-width="1.25" />
<line x1="76.96" y1="340.91" x2="82.76" y2="340.91" stroke="#161616" stroke-width="1.6" />
<line x1="76.96" y1="357.94" x2="82.76" y2="357.94" stroke="#161616" stroke-width="1.6" />
<line x1="84.33" y1="336.74" x2="84.33" y2="355.31" stroke="#161616" stroke-width="1.25" />
<line x1="81.43" y1="336.74" x2="87.23" y2="336.74" stroke="#161616" stroke-width="1.6" />
<line x1="81.43" y1="355.31" x2="87.23" y2="355.31" stroke="#161616" stroke-width="1.6" />
<line x1="88.79" y1="332.53" x2="88.79" y2="352.75" stroke="#161616" stroke-width="1.25" />
<line x1="85.89" y1="332.53" x2="91.69" y2="332.53" stroke="#161616" stroke-width="1.6" />
<line x1="85.89" y1="352.75" x2="91.69" y2="352.75" stroke="#161616" stroke-width="1.6" />
<line x1="93.26" y1="328.27" x2="93.26" y2="350.22" stroke="#161616" stroke-width="1.25" />
<line x1="90.36" y1="328.27" x2="96.16" y2="328.27" stroke="#161616" stroke-width="1.6" />
<line x1="90.36" y1="350.22" x2="96.16" y2="350.22" stroke="#161616" stroke-width="1.6" />
<line x1="97.72" y1="323.97" x2="97.72" y2="347.7" stroke="#161616" stroke-width="1.25" />
<line x1="94.82" y1="323.97" x2="100.62" y2="323.97" stroke="#161616" stroke-width="1.6" />
<line x1="94.82" y1="347.7" x2="100.62" y2="347.7" stroke="#161616" stroke-width="1.6" />
<line x1="102.19" y1="319.63" x2="102.19" y2="345.17" stroke="#161616" stroke-width="1.25" />
<line x1="99.29" y1="319.63" x2="105.09" y2="319.63" stroke="#161616" stroke-width="1.6" />
<line x1="99.29" y1="345.17" x2="105.09" y2="345.17" stroke="#161616" stroke-width="1.6" />
<line x1="106.66" y1="315.17" x2="106.66" y2="342.61" stroke="#161616" stroke-width="1.25" />
<line x1="103.76" y1="315.17" x2="109.56" y2="315.17" stroke="#161616" stroke-width="1.6" />
<line x1="103.76" y1="342.61" x2="109.56" y2="342.61" stroke="#161616" stroke-width="1.6" />
<line x1="111.12" y1="310.59" x2="111.12" y2="340.04" stroke="#161616" stroke-width="1.25" />
<line x1="108.22" y1="310.59" x2="114.02" y2="310.59" stroke="#161616" stroke-width="1.6" />
<line x1="108.22" y1="340.04" x2="114.02" y2="340.04" stroke="#161616" stroke-width="1.6" />
<line x1="115.59" y1="306.01" x2="115.59" y2="337.47" stroke="#161616" stroke-width="1.25" />
<line x1="112.69" y1="306.01" x2="118.49" y2="306.01" stroke="#161616" stroke-width="1.6" />
<line x1="112.69" y1="337.47" x2="118.49" y2="337.47" stroke="#161616" stroke-width="1.6" />
<line x1="120.05" y1="301.54" x2="120.05" y2="334.92" stroke="#161616" stroke-width="1.25" />
<line x1="117.15" y1="301.54" x2="122.95" y2="301.54" stroke="#161616" stroke-width="1.6" />
<line x1="117.15" y1="334.92" x2="122.95" y2="334.92" stroke="#161616" stroke-width="1.6" />
<line x1="124.52" y1="297.29" x2="124.52" y2="332.4" stroke="#161616" stroke-width="1.25" />
<line x1="121.62" y1="297.29" x2="127.42" y2="297.29" stroke="#161616" stroke-width="1.6" />
<line x1="121.62" y1="332.4" x2="127.42" y2="332.4" stroke="#161616" stroke-width="1.6" />
<line x1="128.99" y1="293.23" x2="128.99" y2="329.88" stroke="#161616" stroke-width="1.25" />
<line x1="126.09" y1="293.23" x2="131.89" y2="293.23" stroke="#161616" stroke-width="1.6" />
<line x1="126.09" y1="329.88" x2="131.89" y2="329.88" stroke="#161616" stroke-width="1.6" />
<line x1="133.45" y1="289.29" x2="133.45" y2="327.34" stroke="#161616" stroke-width="1.25" />
<line x1="130.55" y1="289.29" x2="136.35" y2="289.29" stroke="#161616" stroke-width="1.6" />
<line x1="130.55" y1="327.34" x2="136.35" y2="327.34" stroke="#161616" stroke-width="1.6" />
<line x1="137.92" y1="285.52" x2="137.92" y2="324.84" stroke="#161616" stroke-width="1.25" />
<line x1="135.02" y1="285.52" x2="140.82" y2="285.52" stroke="#161616" stroke-width="1.6" />
<line x1="135.02" y1="324.84" x2="140.82" y2="324.84" stroke="#161616" stroke-width="1.6" />
<line x1="142.38" y1="281.96" x2="142.38" y2="322.43" stroke="#161616" stroke-width="1.25" />
<line x1="139.48" y1="281.96" x2="145.28" y2="281.96" stroke="#161616" stroke-width="1.6" />
<line x1="139.48" y1="322.43" x2="145.28" y2="322.43" stroke="#161616" stroke-width="1.6" />
<line x1="146.85" y1="278.67" x2="146.85" y2="320.16" stroke="#161616" stroke-width="1.25" />
<line x1="143.95" y1="278.67" x2="149.75" y2="278.67" stroke="#161616" stroke-width="1.6" />
<line x1="143.95" y1="320.16" x2="149.75" y2="320.16" stroke="#161616" stroke-width="1.6" />
<line x1="151.32" y1="275.06" x2="151.32" y2="317.58" stroke="#161616" stroke-width="1.25" />
<line x1="148.42" y1="275.06" x2="154.22" y2="275.06" stroke="#161616" stroke-width="1.6" />
<line x1="148.42" y1="317.58" x2="154.22" y2="317.58" stroke="#161616" stroke-width="1.6" />
<line x1="155.78" y1="271.92" x2="155.78" y2="315.21" stroke="#161616" stroke-width="1.25" />
<line x1="152.88" y1="271.92" x2="158.68" y2="271.92" stroke="#161616" stroke-width="1.6" />
<line x1="152.88" y1="315.21" x2="158.68" y2="315.21" stroke="#161616" stroke-width="1.6" />
<line x1="160.25" y1="268.95" x2="160.25" y2="312.92" stroke="#161616" stroke-width="1.25" />
<line x1="157.35" y1="268.95" x2="163.15" y2="268.95" stroke="#161616" stroke-width="1.6" />
<line x1="157.35" y1="312.92" x2="163.15" y2="312.92" stroke="#161616" stroke-width="1.6" />
<line x1="164.71" y1="265.9" x2="164.71" y2="310.59" stroke="#161616" stroke-width="1.25" />
<line x1="161.81" y1="265.9" x2="167.61" y2="265.9" stroke="#161616" stroke-width="1.6" />
<line x1="161.81" y1="310.59" x2="167.61" y2="310.59" stroke="#161616" stroke-width="1.6" />
<polyline points="34.9,384.54 39.37,381.29 43.83,378 48.3,374.73 52.76,371.56 57.23,368.58 61.7,365.8 66.16,363.19 70.63,360.69 75.09,358.24 79.56,355.81 84.03,353.4 88.49,351.05 92.96,348.73 97.42,346.43 101.89,344.1 106.36,341.7 110.82,339.22 115.29,336.78 119.75,334.47 124.22,332.4 128.69,330.59 133.15,328.96 137.62,327.5 142.08,326.17 146.55,324.95 151.02,323.66 155.48,322.62 159.95,321.69 164.41,320.7" fill="none" stroke="#d5ccd3" stroke-width="2.2" stroke-linejoin="round"/>
<polyline points="34.9,384.54 39.37,381.2 43.83,377.84 48.3,374.49 52.76,371.21 57.23,368.04 61.7,365.02 66.16,362.09 70.63,359.25 75.09,356.45 79.56,353.68 84.03,350.95 88.49,348.28 92.96,345.65 97.42,343.02 101.89,340.38 106.36,337.68 110.82,334.93 115.29,332.21 119.75,329.57 124.22,327.08 128.69,324.7 133.15,322.38 137.62,320.19 142.08,318.18 146.55,316.44 151.02,314.74 155.48,313.45 159.95,312.33 164.41,311.12" fill="none" stroke="#a39e9c" stroke-width="2.2" stroke-linejoin="round"/>
<polyline points="34.9,384.54 39.37,381.11 43.83,377.65 48.3,374.21 52.76,370.81 57.23,367.51 61.7,364.31 66.16,361.17 70.63,358.1 75.09,355.08 79.56,352.08 84.03,349.13 88.49,346.24 92.96,343.38 97.42,340.54 101.89,337.72 106.36,334.89 110.82,332.05 115.29,329.24 119.75,326.51 124.22,323.89 128.69,321.33 133.15,318.8 137.62,316.38 142.08,314.15 146.55,312.18 151.02,310.21 155.48,308.66 159.95,307.27 164.41,305.8" fill="none" stroke="#5a5655" stroke-width="2.2" stroke-linejoin="round"/>
<polyline points="34.9,384.54 39.37,380.9 43.83,377.25 48.3,373.61 52.76,370 57.23,366.45 61.7,362.98 66.16,359.56 70.63,356.18 75.09,352.81 79.56,349.42 84.03,346.03 88.49,342.64 92.96,339.25 97.42,335.84 101.89,332.4 106.36,328.89 110.82,325.31 115.29,321.74 119.75,318.23 124.22,314.84 128.69,311.55 133.15,308.32 137.62,305.18 142.08,302.2 146.55,299.42 151.02,296.32 155.48,293.56 159.95,290.94 164.41,288.24" fill="none" stroke="#111111" stroke-width="2.4" stroke-linejoin="round"/>
<text x="175.2" y="241.3" font-size="10.8" fill="#333">D</text>
<text x="243.7" y="242" font-size="10.6" fill="#222">CXCL12-<tspan font-family='"Liberation Serif", serif' font-size="11.5">&#946;</tspan></text>
<line x1="206.7" y1="251" x2="206.7" y2="386.5" stroke="#1a1a1a" stroke-width="1.8" />
<line x1="205.8" y1="385.6" x2="336.1" y2="385.6" stroke="#1a1a1a" stroke-width="1.8" />
<line x1="203.5" y1="385.6" x2="206.7" y2="385.6" stroke="#1a1a1a" stroke-width="1.5" />
<text x="200.6" y="390.8" font-size="10.6" text-anchor="end" fill="#333">1.0</text>
<line x1="203.5" y1="359" x2="206.7" y2="359" stroke="#1a1a1a" stroke-width="1.5" />
<text x="200.6" y="364.2" font-size="10.6" text-anchor="end" fill="#333">1.5</text>
<line x1="203.5" y1="332.4" x2="206.7" y2="332.4" stroke="#1a1a1a" stroke-width="1.5" />
<text x="200.6" y="337.6" font-size="10.6" text-anchor="end" fill="#333">2.0</text>
<line x1="203.5" y1="305.8" x2="206.7" y2="305.8" stroke="#1a1a1a" stroke-width="1.5" />
<text x="200.6" y="311" font-size="10.6" text-anchor="end" fill="#333">2.5</text>
<line x1="203.5" y1="279.2" x2="206.7" y2="279.2" stroke="#1a1a1a" stroke-width="1.5" />
<text x="200.6" y="284.4" font-size="10.6" text-anchor="end" fill="#333">3.0</text>
<line x1="203.5" y1="252.6" x2="206.7" y2="252.6" stroke="#1a1a1a" stroke-width="1.5" />
<text x="200.6" y="257.8" font-size="10.6" text-anchor="end" fill="#333">3.5</text>
<line x1="207" y1="385.6" x2="207" y2="389" stroke="#1a1a1a" stroke-width="1.5" />
<text x="207" y="399.2" font-size="9.6" font-weight="bold" text-anchor="middle" fill="#111">0</text>
<line x1="249.48" y1="385.6" x2="249.48" y2="389" stroke="#1a1a1a" stroke-width="1.5" />
<text x="249.48" y="399.2" font-size="9.6" font-weight="bold" text-anchor="middle" fill="#111">20</text>
<line x1="291.96" y1="385.6" x2="291.96" y2="389" stroke="#1a1a1a" stroke-width="1.5" />
<text x="291.96" y="399.2" font-size="9.6" font-weight="bold" text-anchor="middle" fill="#111">40</text>
<line x1="334.44" y1="385.6" x2="334.44" y2="389" stroke="#1a1a1a" stroke-width="1.5" />
<text x="334.44" y="399.2" font-size="9.6" font-weight="bold" text-anchor="middle" fill="#111">60</text>
<text x="270.72" y="413" font-size="9.7" font-weight="bold" text-anchor="middle" fill="#111">Time (min)</text>
<line x1="209.95" y1="379.83" x2="209.95" y2="383.24" stroke="#161616" stroke-width="1.25" />
<line x1="207.05" y1="379.83" x2="212.85" y2="379.83" stroke="#161616" stroke-width="1.6" />
<line x1="207.05" y1="383.24" x2="212.85" y2="383.24" stroke="#161616" stroke-width="1.6" />
<line x1="214.2" y1="376.68" x2="214.2" y2="380.29" stroke="#161616" stroke-width="1.25" />
<line x1="211.3" y1="376.68" x2="217.1" y2="376.68" stroke="#161616" stroke-width="1.6" />
<line x1="211.3" y1="380.29" x2="217.1" y2="380.29" stroke="#161616" stroke-width="1.6" />
<line x1="218.44" y1="373.62" x2="218.44" y2="377.45" stroke="#161616" stroke-width="1.25" />
<line x1="215.54" y1="373.62" x2="221.34" y2="373.62" stroke="#161616" stroke-width="1.6" />
<line x1="215.54" y1="377.45" x2="221.34" y2="377.45" stroke="#161616" stroke-width="1.6" />
<line x1="222.69" y1="370.81" x2="222.69" y2="374.85" stroke="#161616" stroke-width="1.25" />
<line x1="219.79" y1="370.81" x2="225.59" y2="370.81" stroke="#161616" stroke-width="1.6" />
<line x1="219.79" y1="374.85" x2="225.59" y2="374.85" stroke="#161616" stroke-width="1.6" />
<line x1="226.94" y1="369.09" x2="226.94" y2="373.35" stroke="#161616" stroke-width="1.25" />
<line x1="224.04" y1="369.09" x2="229.84" y2="369.09" stroke="#161616" stroke-width="1.6" />
<line x1="224.04" y1="373.35" x2="229.84" y2="373.35" stroke="#161616" stroke-width="1.6" />
<line x1="231.19" y1="367.5" x2="231.19" y2="371.97" stroke="#161616" stroke-width="1.25" />
<line x1="228.29" y1="367.5" x2="234.09" y2="367.5" stroke="#161616" stroke-width="1.6" />
<line x1="228.29" y1="371.97" x2="234.09" y2="371.97" stroke="#161616" stroke-width="1.6" />
<line x1="235.44" y1="366" x2="235.44" y2="370.68" stroke="#161616" stroke-width="1.25" />
<line x1="232.54" y1="366" x2="238.34" y2="366" stroke="#161616" stroke-width="1.6" />
<line x1="232.54" y1="370.68" x2="238.34" y2="370.68" stroke="#161616" stroke-width="1.6" />
<line x1="239.68" y1="364.55" x2="239.68" y2="369.45" stroke="#161616" stroke-width="1.25" />
<line x1="236.78" y1="364.55" x2="242.58" y2="364.55" stroke="#161616" stroke-width="1.6" />
<line x1="236.78" y1="369.45" x2="242.58" y2="369.45" stroke="#161616" stroke-width="1.6" />
<line x1="243.93" y1="363.12" x2="243.93" y2="368.22" stroke="#161616" stroke-width="1.25" />
<line x1="241.03" y1="363.12" x2="246.83" y2="363.12" stroke="#161616" stroke-width="1.6" />
<line x1="241.03" y1="368.22" x2="246.83" y2="368.22" stroke="#161616" stroke-width="1.6" />
<line x1="248.18" y1="361.66" x2="248.18" y2="366.98" stroke="#161616" stroke-width="1.25" />
<line x1="245.28" y1="361.66" x2="251.08" y2="361.66" stroke="#161616" stroke-width="1.6" />
<line x1="245.28" y1="366.98" x2="251.08" y2="366.98" stroke="#161616" stroke-width="1.6" />
<line x1="252.43" y1="360.56" x2="252.43" y2="366.09" stroke="#161616" stroke-width="1.25" />
<line x1="249.53" y1="360.56" x2="255.33" y2="360.56" stroke="#161616" stroke-width="1.6" />
<line x1="249.53" y1="366.09" x2="255.33" y2="366.09" stroke="#161616" stroke-width="1.6" />
<line x1="256.68" y1="359.42" x2="256.68" y2="365.17" stroke="#161616" stroke-width="1.25" />
<line x1="253.78" y1="359.42" x2="259.58" y2="359.42" stroke="#161616" stroke-width="1.6" />
<line x1="253.78" y1="365.17" x2="259.58" y2="365.17" stroke="#161616" stroke-width="1.6" />
<line x1="260.92" y1="358.27" x2="260.92" y2="364.23" stroke="#161616" stroke-width="1.25" />
<line x1="258.02" y1="358.27" x2="263.82" y2="358.27" stroke="#161616" stroke-width="1.6" />
<line x1="258.02" y1="364.23" x2="263.82" y2="364.23" stroke="#161616" stroke-width="1.6" />
<line x1="265.17" y1="357.13" x2="265.17" y2="363.3" stroke="#161616" stroke-width="1.25" />
<line x1="262.27" y1="357.13" x2="268.07" y2="357.13" stroke="#161616" stroke-width="1.6" />
<line x1="262.27" y1="363.3" x2="268.07" y2="363.3" stroke="#161616" stroke-width="1.6" />
<line x1="269.42" y1="356.03" x2="269.42" y2="362.41" stroke="#161616" stroke-width="1.25" />
<line x1="266.52" y1="356.03" x2="272.32" y2="356.03" stroke="#161616" stroke-width="1.6" />
<line x1="266.52" y1="362.41" x2="272.32" y2="362.41" stroke="#161616" stroke-width="1.6" />
<line x1="273.67" y1="354.69" x2="273.67" y2="361.87" stroke="#161616" stroke-width="1.25" />
<line x1="270.77" y1="354.69" x2="276.57" y2="354.69" stroke="#161616" stroke-width="1.6" />
<line x1="270.77" y1="361.87" x2="276.57" y2="361.87" stroke="#161616" stroke-width="1.6" />
<line x1="277.92" y1="353.43" x2="277.92" y2="361.41" stroke="#161616" stroke-width="1.25" />
<line x1="275.02" y1="353.43" x2="280.82" y2="353.43" stroke="#161616" stroke-width="1.6" />
<line x1="275.02" y1="361.41" x2="280.82" y2="361.41" stroke="#161616" stroke-width="1.6" />
<line x1="282.16" y1="351.53" x2="282.16" y2="361.81" stroke="#161616" stroke-width="1.25" />
<line x1="279.26" y1="351.53" x2="285.06" y2="351.53" stroke="#161616" stroke-width="1.6" />
<line x1="279.26" y1="361.81" x2="285.06" y2="361.81" stroke="#161616" stroke-width="1.6" />
<line x1="286.41" y1="349.6" x2="286.41" y2="362.19" stroke="#161616" stroke-width="1.25" />
<line x1="283.51" y1="349.6" x2="289.31" y2="349.6" stroke="#161616" stroke-width="1.6" />
<line x1="283.51" y1="362.19" x2="289.31" y2="362.19" stroke="#161616" stroke-width="1.6" />
<line x1="290.66" y1="347.75" x2="290.66" y2="362.65" stroke="#161616" stroke-width="1.25" />
<line x1="287.76" y1="347.75" x2="293.56" y2="347.75" stroke="#161616" stroke-width="1.6" />
<line x1="287.76" y1="362.65" x2="293.56" y2="362.65" stroke="#161616" stroke-width="1.6" />
<line x1="294.91" y1="346.85" x2="294.91" y2="362.57" stroke="#161616" stroke-width="1.25" />
<line x1="292.01" y1="346.85" x2="297.81" y2="346.85" stroke="#161616" stroke-width="1.6" />
<line x1="292.01" y1="362.57" x2="297.81" y2="362.57" stroke="#161616" stroke-width="1.6" />
<line x1="299.16" y1="346.07" x2="299.16" y2="362.62" stroke="#161616" stroke-width="1.25" />
<line x1="296.26" y1="346.07" x2="302.06" y2="346.07" stroke="#161616" stroke-width="1.6" />
<line x1="296.26" y1="362.62" x2="302.06" y2="362.62" stroke="#161616" stroke-width="1.6" />
<line x1="303.4" y1="345.34" x2="303.4" y2="362.72" stroke="#161616" stroke-width="1.25" />
<line x1="300.5" y1="345.34" x2="306.3" y2="345.34" stroke="#161616" stroke-width="1.6" />
<line x1="300.5" y1="362.72" x2="306.3" y2="362.72" stroke="#161616" stroke-width="1.6" />
<line x1="307.65" y1="344.58" x2="307.65" y2="362.78" stroke="#161616" stroke-width="1.25" />
<line x1="304.75" y1="344.58" x2="310.55" y2="344.58" stroke="#161616" stroke-width="1.6" />
<line x1="304.75" y1="362.78" x2="310.55" y2="362.78" stroke="#161616" stroke-width="1.6" />
<line x1="311.9" y1="343.78" x2="311.9" y2="362.81" stroke="#161616" stroke-width="1.25" />
<line x1="309" y1="343.78" x2="314.8" y2="343.78" stroke="#161616" stroke-width="1.6" />
<line x1="309" y1="362.81" x2="314.8" y2="362.81" stroke="#161616" stroke-width="1.6" />
<line x1="316.15" y1="343.03" x2="316.15" y2="362.9" stroke="#161616" stroke-width="1.25" />
<line x1="313.25" y1="343.03" x2="319.05" y2="343.03" stroke="#161616" stroke-width="1.6" />
<line x1="313.25" y1="362.9" x2="319.05" y2="362.9" stroke="#161616" stroke-width="1.6" />
<line x1="320.4" y1="342.33" x2="320.4" y2="363.02" stroke="#161616" stroke-width="1.25" />
<line x1="317.5" y1="342.33" x2="323.3" y2="342.33" stroke="#161616" stroke-width="1.6" />
<line x1="317.5" y1="363.02" x2="323.3" y2="363.02" stroke="#161616" stroke-width="1.6" />
<line x1="324.64" y1="341.63" x2="324.64" y2="363.14" stroke="#161616" stroke-width="1.25" />
<line x1="321.74" y1="341.63" x2="327.54" y2="341.63" stroke="#161616" stroke-width="1.6" />
<line x1="321.74" y1="363.14" x2="327.54" y2="363.14" stroke="#161616" stroke-width="1.6" />
<line x1="328.89" y1="340.91" x2="328.89" y2="363.26" stroke="#161616" stroke-width="1.25" />
<line x1="325.99" y1="340.91" x2="331.79" y2="340.91" stroke="#161616" stroke-width="1.6" />
<line x1="325.99" y1="363.26" x2="331.79" y2="363.26" stroke="#161616" stroke-width="1.6" />
<line x1="209.95" y1="378.2" x2="209.95" y2="383.84" stroke="#161616" stroke-width="1.25" />
<line x1="207.05" y1="378.2" x2="212.85" y2="378.2" stroke="#161616" stroke-width="1.6" />
<line x1="207.05" y1="383.84" x2="212.85" y2="383.84" stroke="#161616" stroke-width="1.6" />
<line x1="214.2" y1="374.51" x2="214.2" y2="380.47" stroke="#161616" stroke-width="1.25" />
<line x1="211.3" y1="374.51" x2="217.1" y2="374.51" stroke="#161616" stroke-width="1.6" />
<line x1="211.3" y1="380.47" x2="217.1" y2="380.47" stroke="#161616" stroke-width="1.6" />
<line x1="218.44" y1="370.83" x2="218.44" y2="377.1" stroke="#161616" stroke-width="1.25" />
<line x1="215.54" y1="370.83" x2="221.34" y2="370.83" stroke="#161616" stroke-width="1.6" />
<line x1="215.54" y1="377.1" x2="221.34" y2="377.1" stroke="#161616" stroke-width="1.6" />
<line x1="222.69" y1="367.16" x2="222.69" y2="373.76" stroke="#161616" stroke-width="1.25" />
<line x1="219.79" y1="367.16" x2="225.59" y2="367.16" stroke="#161616" stroke-width="1.6" />
<line x1="219.79" y1="373.76" x2="225.59" y2="373.76" stroke="#161616" stroke-width="1.6" />
<line x1="226.94" y1="363.52" x2="226.94" y2="370.44" stroke="#161616" stroke-width="1.25" />
<line x1="224.04" y1="363.52" x2="229.84" y2="363.52" stroke="#161616" stroke-width="1.6" />
<line x1="224.04" y1="370.44" x2="229.84" y2="370.44" stroke="#161616" stroke-width="1.6" />
<line x1="231.19" y1="359.91" x2="231.19" y2="367.14" stroke="#161616" stroke-width="1.25" />
<line x1="228.29" y1="359.91" x2="234.09" y2="359.91" stroke="#161616" stroke-width="1.6" />
<line x1="228.29" y1="367.14" x2="234.09" y2="367.14" stroke="#161616" stroke-width="1.6" />
<line x1="235.44" y1="356.3" x2="235.44" y2="363.86" stroke="#161616" stroke-width="1.25" />
<line x1="232.54" y1="356.3" x2="238.34" y2="356.3" stroke="#161616" stroke-width="1.6" />
<line x1="232.54" y1="363.86" x2="238.34" y2="363.86" stroke="#161616" stroke-width="1.6" />
<line x1="239.68" y1="352.73" x2="239.68" y2="360.6" stroke="#161616" stroke-width="1.25" />
<line x1="236.78" y1="352.73" x2="242.58" y2="352.73" stroke="#161616" stroke-width="1.6" />
<line x1="236.78" y1="360.6" x2="242.58" y2="360.6" stroke="#161616" stroke-width="1.6" />
<line x1="243.93" y1="349.19" x2="243.93" y2="357.38" stroke="#161616" stroke-width="1.25" />
<line x1="241.03" y1="349.19" x2="246.83" y2="349.19" stroke="#161616" stroke-width="1.6" />
<line x1="241.03" y1="357.38" x2="246.83" y2="357.38" stroke="#161616" stroke-width="1.6" />
<line x1="248.18" y1="345.7" x2="248.18" y2="354.21" stroke="#161616" stroke-width="1.25" />
<line x1="245.28" y1="345.7" x2="251.08" y2="345.7" stroke="#161616" stroke-width="1.6" />
<line x1="245.28" y1="354.21" x2="251.08" y2="354.21" stroke="#161616" stroke-width="1.6" />
<line x1="252.43" y1="342.1" x2="252.43" y2="351.22" stroke="#161616" stroke-width="1.25" />
<line x1="249.53" y1="342.1" x2="255.33" y2="342.1" stroke="#161616" stroke-width="1.6" />
<line x1="249.53" y1="351.22" x2="255.33" y2="351.22" stroke="#161616" stroke-width="1.6" />
<line x1="256.68" y1="338.55" x2="256.68" y2="348.24" stroke="#161616" stroke-width="1.25" />
<line x1="253.78" y1="338.55" x2="259.58" y2="338.55" stroke="#161616" stroke-width="1.6" />
<line x1="253.78" y1="348.24" x2="259.58" y2="348.24" stroke="#161616" stroke-width="1.6" />
<line x1="260.92" y1="335.04" x2="260.92" y2="345.31" stroke="#161616" stroke-width="1.25" />
<line x1="258.02" y1="335.04" x2="263.82" y2="335.04" stroke="#161616" stroke-width="1.6" />
<line x1="258.02" y1="345.31" x2="263.82" y2="345.31" stroke="#161616" stroke-width="1.6" />
<line x1="265.17" y1="331.57" x2="265.17" y2="342.5" stroke="#161616" stroke-width="1.25" />
<line x1="262.27" y1="331.57" x2="268.07" y2="331.57" stroke="#161616" stroke-width="1.6" />
<line x1="262.27" y1="342.5" x2="268.07" y2="342.5" stroke="#161616" stroke-width="1.6" />
<line x1="269.42" y1="328.14" x2="269.42" y2="339.85" stroke="#161616" stroke-width="1.25" />
<line x1="266.52" y1="328.14" x2="272.32" y2="328.14" stroke="#161616" stroke-width="1.6" />
<line x1="266.52" y1="339.85" x2="272.32" y2="339.85" stroke="#161616" stroke-width="1.6" />
<line x1="273.67" y1="324.71" x2="273.67" y2="337.31" stroke="#161616" stroke-width="1.25" />
<line x1="270.77" y1="324.71" x2="276.57" y2="324.71" stroke="#161616" stroke-width="1.6" />
<line x1="270.77" y1="337.31" x2="276.57" y2="337.31" stroke="#161616" stroke-width="1.6" />
<line x1="277.92" y1="321.27" x2="277.92" y2="334.84" stroke="#161616" stroke-width="1.25" />
<line x1="275.02" y1="321.27" x2="280.82" y2="321.27" stroke="#161616" stroke-width="1.6" />
<line x1="275.02" y1="334.84" x2="280.82" y2="334.84" stroke="#161616" stroke-width="1.6" />
<line x1="282.16" y1="317.89" x2="282.16" y2="332.53" stroke="#161616" stroke-width="1.25" />
<line x1="279.26" y1="317.89" x2="285.06" y2="317.89" stroke="#161616" stroke-width="1.6" />
<line x1="279.26" y1="332.53" x2="285.06" y2="332.53" stroke="#161616" stroke-width="1.6" />
<line x1="286.41" y1="314.66" x2="286.41" y2="330.45" stroke="#161616" stroke-width="1.25" />
<line x1="283.51" y1="314.66" x2="289.31" y2="314.66" stroke="#161616" stroke-width="1.6" />
<line x1="283.51" y1="330.45" x2="289.31" y2="330.45" stroke="#161616" stroke-width="1.6" />
<line x1="290.66" y1="311.65" x2="290.66" y2="328.68" stroke="#161616" stroke-width="1.25" />
<line x1="287.76" y1="311.65" x2="293.56" y2="311.65" stroke="#161616" stroke-width="1.6" />
<line x1="287.76" y1="328.68" x2="293.56" y2="328.68" stroke="#161616" stroke-width="1.6" />
<line x1="294.91" y1="308.84" x2="294.91" y2="327.23" stroke="#161616" stroke-width="1.25" />
<line x1="292.01" y1="308.84" x2="297.81" y2="308.84" stroke="#161616" stroke-width="1.6" />
<line x1="292.01" y1="327.23" x2="297.81" y2="327.23" stroke="#161616" stroke-width="1.6" />
<line x1="299.16" y1="306.17" x2="299.16" y2="326.07" stroke="#161616" stroke-width="1.25" />
<line x1="296.26" y1="306.17" x2="302.06" y2="306.17" stroke="#161616" stroke-width="1.6" />
<line x1="296.26" y1="326.07" x2="302.06" y2="326.07" stroke="#161616" stroke-width="1.6" />
<line x1="303.4" y1="303.68" x2="303.4" y2="325.15" stroke="#161616" stroke-width="1.25" />
<line x1="300.5" y1="303.68" x2="306.3" y2="303.68" stroke="#161616" stroke-width="1.6" />
<line x1="300.5" y1="325.15" x2="306.3" y2="325.15" stroke="#161616" stroke-width="1.6" />
<line x1="307.65" y1="301.42" x2="307.65" y2="324.44" stroke="#161616" stroke-width="1.25" />
<line x1="304.75" y1="301.42" x2="310.55" y2="301.42" stroke="#161616" stroke-width="1.6" />
<line x1="304.75" y1="324.44" x2="310.55" y2="324.44" stroke="#161616" stroke-width="1.6" />
<line x1="311.9" y1="299.42" x2="311.9" y2="323.89" stroke="#161616" stroke-width="1.25" />
<line x1="309" y1="299.42" x2="314.8" y2="299.42" stroke="#161616" stroke-width="1.6" />
<line x1="309" y1="323.89" x2="314.8" y2="323.89" stroke="#161616" stroke-width="1.6" />
<line x1="316.15" y1="297.41" x2="316.15" y2="323.55" stroke="#161616" stroke-width="1.25" />
<line x1="313.25" y1="297.41" x2="319.05" y2="297.41" stroke="#161616" stroke-width="1.6" />
<line x1="313.25" y1="323.55" x2="319.05" y2="323.55" stroke="#161616" stroke-width="1.6" />
<line x1="320.4" y1="295.86" x2="320.4" y2="323.59" stroke="#161616" stroke-width="1.25" />
<line x1="317.5" y1="295.86" x2="323.3" y2="295.86" stroke="#161616" stroke-width="1.6" />
<line x1="317.5" y1="323.59" x2="323.3" y2="323.59" stroke="#161616" stroke-width="1.6" />
<line x1="324.64" y1="294.49" x2="324.64" y2="323.78" stroke="#161616" stroke-width="1.25" />
<line x1="321.74" y1="294.49" x2="327.54" y2="294.49" stroke="#161616" stroke-width="1.6" />
<line x1="321.74" y1="323.78" x2="327.54" y2="323.78" stroke="#161616" stroke-width="1.6" />
<line x1="328.89" y1="293.03" x2="328.89" y2="323.89" stroke="#161616" stroke-width="1.25" />
<line x1="325.99" y1="293.03" x2="331.79" y2="293.03" stroke="#161616" stroke-width="1.6" />
<line x1="325.99" y1="323.89" x2="331.79" y2="323.89" stroke="#161616" stroke-width="1.6" />
<line x1="209.95" y1="378.09" x2="209.95" y2="383.73" stroke="#161616" stroke-width="1.25" />
<line x1="207.05" y1="378.09" x2="212.85" y2="378.09" stroke="#161616" stroke-width="1.6" />
<line x1="207.05" y1="383.73" x2="212.85" y2="383.73" stroke="#161616" stroke-width="1.6" />
<line x1="214.2" y1="374.3" x2="214.2" y2="380.25" stroke="#161616" stroke-width="1.25" />
<line x1="211.3" y1="374.3" x2="217.1" y2="374.3" stroke="#161616" stroke-width="1.6" />
<line x1="211.3" y1="380.25" x2="217.1" y2="380.25" stroke="#161616" stroke-width="1.6" />
<line x1="218.44" y1="370.51" x2="218.44" y2="376.78" stroke="#161616" stroke-width="1.25" />
<line x1="215.54" y1="370.51" x2="221.34" y2="370.51" stroke="#161616" stroke-width="1.6" />
<line x1="215.54" y1="376.78" x2="221.34" y2="376.78" stroke="#161616" stroke-width="1.6" />
<line x1="222.69" y1="366.73" x2="222.69" y2="373.33" stroke="#161616" stroke-width="1.25" />
<line x1="219.79" y1="366.73" x2="225.59" y2="366.73" stroke="#161616" stroke-width="1.6" />
<line x1="219.79" y1="373.33" x2="225.59" y2="373.33" stroke="#161616" stroke-width="1.6" />
<line x1="226.94" y1="362.99" x2="226.94" y2="369.91" stroke="#161616" stroke-width="1.25" />
<line x1="224.04" y1="362.99" x2="229.84" y2="362.99" stroke="#161616" stroke-width="1.6" />
<line x1="224.04" y1="369.91" x2="229.84" y2="369.91" stroke="#161616" stroke-width="1.6" />
<line x1="231.19" y1="359.28" x2="231.19" y2="366.51" stroke="#161616" stroke-width="1.25" />
<line x1="228.29" y1="359.28" x2="234.09" y2="359.28" stroke="#161616" stroke-width="1.6" />
<line x1="228.29" y1="366.51" x2="234.09" y2="366.51" stroke="#161616" stroke-width="1.6" />
<line x1="235.44" y1="355.58" x2="235.44" y2="363.14" stroke="#161616" stroke-width="1.25" />
<line x1="232.54" y1="355.58" x2="238.34" y2="355.58" stroke="#161616" stroke-width="1.6" />
<line x1="232.54" y1="363.14" x2="238.34" y2="363.14" stroke="#161616" stroke-width="1.6" />
<line x1="239.68" y1="351.91" x2="239.68" y2="359.79" stroke="#161616" stroke-width="1.25" />
<line x1="236.78" y1="351.91" x2="242.58" y2="351.91" stroke="#161616" stroke-width="1.6" />
<line x1="236.78" y1="359.79" x2="242.58" y2="359.79" stroke="#161616" stroke-width="1.6" />
<line x1="243.93" y1="348.26" x2="243.93" y2="356.46" stroke="#161616" stroke-width="1.25" />
<line x1="241.03" y1="348.26" x2="246.83" y2="348.26" stroke="#161616" stroke-width="1.6" />
<line x1="241.03" y1="356.46" x2="246.83" y2="356.46" stroke="#161616" stroke-width="1.6" />
<line x1="248.18" y1="344.64" x2="248.18" y2="353.15" stroke="#161616" stroke-width="1.25" />
<line x1="245.28" y1="344.64" x2="251.08" y2="344.64" stroke="#161616" stroke-width="1.6" />
<line x1="245.28" y1="353.15" x2="251.08" y2="353.15" stroke="#161616" stroke-width="1.6" />
<line x1="252.43" y1="340.87" x2="252.43" y2="349.99" stroke="#161616" stroke-width="1.25" />
<line x1="249.53" y1="340.87" x2="255.33" y2="340.87" stroke="#161616" stroke-width="1.6" />
<line x1="249.53" y1="349.99" x2="255.33" y2="349.99" stroke="#161616" stroke-width="1.6" />
<line x1="256.68" y1="337.12" x2="256.68" y2="346.81" stroke="#161616" stroke-width="1.25" />
<line x1="253.78" y1="337.12" x2="259.58" y2="337.12" stroke="#161616" stroke-width="1.6" />
<line x1="253.78" y1="346.81" x2="259.58" y2="346.81" stroke="#161616" stroke-width="1.6" />
<line x1="260.92" y1="333.4" x2="260.92" y2="343.67" stroke="#161616" stroke-width="1.25" />
<line x1="258.02" y1="333.4" x2="263.82" y2="333.4" stroke="#161616" stroke-width="1.6" />
<line x1="258.02" y1="343.67" x2="263.82" y2="343.67" stroke="#161616" stroke-width="1.6" />
<line x1="265.17" y1="329.7" x2="265.17" y2="340.63" stroke="#161616" stroke-width="1.25" />
<line x1="262.27" y1="329.7" x2="268.07" y2="329.7" stroke="#161616" stroke-width="1.6" />
<line x1="262.27" y1="340.63" x2="268.07" y2="340.63" stroke="#161616" stroke-width="1.6" />
<line x1="269.42" y1="326.02" x2="269.42" y2="337.72" stroke="#161616" stroke-width="1.25" />
<line x1="266.52" y1="326.02" x2="272.32" y2="326.02" stroke="#161616" stroke-width="1.6" />
<line x1="266.52" y1="337.72" x2="272.32" y2="337.72" stroke="#161616" stroke-width="1.6" />
<line x1="273.67" y1="322.3" x2="273.67" y2="334.9" stroke="#161616" stroke-width="1.25" />
<line x1="270.77" y1="322.3" x2="276.57" y2="322.3" stroke="#161616" stroke-width="1.6" />
<line x1="270.77" y1="334.9" x2="276.57" y2="334.9" stroke="#161616" stroke-width="1.6" />
<line x1="277.92" y1="318.56" x2="277.92" y2="332.14" stroke="#161616" stroke-width="1.25" />
<line x1="275.02" y1="318.56" x2="280.82" y2="318.56" stroke="#161616" stroke-width="1.6" />
<line x1="275.02" y1="332.14" x2="280.82" y2="332.14" stroke="#161616" stroke-width="1.6" />
<line x1="282.16" y1="314.87" x2="282.16" y2="329.51" stroke="#161616" stroke-width="1.25" />
<line x1="279.26" y1="314.87" x2="285.06" y2="314.87" stroke="#161616" stroke-width="1.6" />
<line x1="279.26" y1="329.51" x2="285.06" y2="329.51" stroke="#161616" stroke-width="1.6" />
<line x1="286.41" y1="311.3" x2="286.41" y2="327.09" stroke="#161616" stroke-width="1.25" />
<line x1="283.51" y1="311.3" x2="289.31" y2="311.3" stroke="#161616" stroke-width="1.6" />
<line x1="283.51" y1="327.09" x2="289.31" y2="327.09" stroke="#161616" stroke-width="1.6" />
<line x1="290.66" y1="307.93" x2="290.66" y2="324.95" stroke="#161616" stroke-width="1.25" />
<line x1="287.76" y1="307.93" x2="293.56" y2="307.93" stroke="#161616" stroke-width="1.6" />
<line x1="287.76" y1="324.95" x2="293.56" y2="324.95" stroke="#161616" stroke-width="1.6" />
<line x1="294.91" y1="304.72" x2="294.91" y2="323.12" stroke="#161616" stroke-width="1.25" />
<line x1="292.01" y1="304.72" x2="297.81" y2="304.72" stroke="#161616" stroke-width="1.6" />
<line x1="292.01" y1="323.12" x2="297.81" y2="323.12" stroke="#161616" stroke-width="1.6" />
<line x1="299.16" y1="301.63" x2="299.16" y2="321.53" stroke="#161616" stroke-width="1.25" />
<line x1="296.26" y1="301.63" x2="302.06" y2="301.63" stroke="#161616" stroke-width="1.6" />
<line x1="296.26" y1="321.53" x2="302.06" y2="321.53" stroke="#161616" stroke-width="1.6" />
<line x1="303.4" y1="298.71" x2="303.4" y2="320.18" stroke="#161616" stroke-width="1.25" />
<line x1="300.5" y1="298.71" x2="306.3" y2="298.71" stroke="#161616" stroke-width="1.6" />
<line x1="300.5" y1="320.18" x2="306.3" y2="320.18" stroke="#161616" stroke-width="1.6" />
<line x1="307.65" y1="296" x2="307.65" y2="319.02" stroke="#161616" stroke-width="1.25" />
<line x1="304.75" y1="296" x2="310.55" y2="296" stroke="#161616" stroke-width="1.6" />
<line x1="304.75" y1="319.02" x2="310.55" y2="319.02" stroke="#161616" stroke-width="1.6" />
<line x1="311.9" y1="293.56" x2="311.9" y2="318.04" stroke="#161616" stroke-width="1.25" />
<line x1="309" y1="293.56" x2="314.8" y2="293.56" stroke="#161616" stroke-width="1.6" />
<line x1="309" y1="318.04" x2="314.8" y2="318.04" stroke="#161616" stroke-width="1.6" />
<line x1="316.15" y1="291.02" x2="316.15" y2="317.17" stroke="#161616" stroke-width="1.25" />
<line x1="313.25" y1="291.02" x2="319.05" y2="291.02" stroke="#161616" stroke-width="1.6" />
<line x1="313.25" y1="317.17" x2="319.05" y2="317.17" stroke="#161616" stroke-width="1.6" />
<line x1="320.4" y1="288.94" x2="320.4" y2="316.67" stroke="#161616" stroke-width="1.25" />
<line x1="317.5" y1="288.94" x2="323.3" y2="288.94" stroke="#161616" stroke-width="1.6" />
<line x1="317.5" y1="316.67" x2="323.3" y2="316.67" stroke="#161616" stroke-width="1.6" />
<line x1="324.64" y1="287.04" x2="324.64" y2="316.33" stroke="#161616" stroke-width="1.25" />
<line x1="321.74" y1="287.04" x2="327.54" y2="287.04" stroke="#161616" stroke-width="1.6" />
<line x1="321.74" y1="316.33" x2="327.54" y2="316.33" stroke="#161616" stroke-width="1.6" />
<line x1="328.89" y1="285.05" x2="328.89" y2="315.91" stroke="#161616" stroke-width="1.25" />
<line x1="325.99" y1="285.05" x2="331.79" y2="285.05" stroke="#161616" stroke-width="1.6" />
<line x1="325.99" y1="315.91" x2="331.79" y2="315.91" stroke="#161616" stroke-width="1.6" />
<line x1="211.55" y1="377.61" x2="211.55" y2="384" stroke="#161616" stroke-width="1.25" />
<line x1="208.65" y1="377.61" x2="214.45" y2="377.61" stroke="#161616" stroke-width="1.6" />
<line x1="208.65" y1="384" x2="214.45" y2="384" stroke="#161616" stroke-width="1.6" />
<line x1="215.8" y1="373.34" x2="215.8" y2="380.79" stroke="#161616" stroke-width="1.25" />
<line x1="212.9" y1="373.34" x2="218.7" y2="373.34" stroke="#161616" stroke-width="1.6" />
<line x1="212.9" y1="380.79" x2="218.7" y2="380.79" stroke="#161616" stroke-width="1.6" />
<line x1="220.04" y1="369.07" x2="220.04" y2="377.58" stroke="#161616" stroke-width="1.25" />
<line x1="217.14" y1="369.07" x2="222.94" y2="369.07" stroke="#161616" stroke-width="1.6" />
<line x1="217.14" y1="377.58" x2="222.94" y2="377.58" stroke="#161616" stroke-width="1.6" />
<line x1="224.29" y1="364.82" x2="224.29" y2="374.39" stroke="#161616" stroke-width="1.25" />
<line x1="221.39" y1="364.82" x2="227.19" y2="364.82" stroke="#161616" stroke-width="1.6" />
<line x1="221.39" y1="374.39" x2="227.19" y2="374.39" stroke="#161616" stroke-width="1.6" />
<line x1="228.54" y1="360.6" x2="228.54" y2="371.24" stroke="#161616" stroke-width="1.25" />
<line x1="225.64" y1="360.6" x2="231.44" y2="360.6" stroke="#161616" stroke-width="1.6" />
<line x1="225.64" y1="371.24" x2="231.44" y2="371.24" stroke="#161616" stroke-width="1.6" />
<line x1="232.79" y1="356.43" x2="232.79" y2="368.1" stroke="#161616" stroke-width="1.25" />
<line x1="229.89" y1="356.43" x2="235.69" y2="356.43" stroke="#161616" stroke-width="1.6" />
<line x1="229.89" y1="368.1" x2="235.69" y2="368.1" stroke="#161616" stroke-width="1.6" />
<line x1="237.04" y1="352.31" x2="237.04" y2="364.98" stroke="#161616" stroke-width="1.25" />
<line x1="234.14" y1="352.31" x2="239.94" y2="352.31" stroke="#161616" stroke-width="1.6" />
<line x1="234.14" y1="364.98" x2="239.94" y2="364.98" stroke="#161616" stroke-width="1.6" />
<line x1="241.28" y1="348.2" x2="241.28" y2="361.88" stroke="#161616" stroke-width="1.25" />
<line x1="238.38" y1="348.2" x2="244.18" y2="348.2" stroke="#161616" stroke-width="1.6" />
<line x1="238.38" y1="361.88" x2="244.18" y2="361.88" stroke="#161616" stroke-width="1.6" />
<line x1="245.53" y1="344.06" x2="245.53" y2="358.82" stroke="#161616" stroke-width="1.25" />
<line x1="242.63" y1="344.06" x2="248.43" y2="344.06" stroke="#161616" stroke-width="1.6" />
<line x1="242.63" y1="358.82" x2="248.43" y2="358.82" stroke="#161616" stroke-width="1.6" />
<line x1="249.78" y1="339.85" x2="249.78" y2="355.81" stroke="#161616" stroke-width="1.25" />
<line x1="246.88" y1="339.85" x2="252.68" y2="339.85" stroke="#161616" stroke-width="1.6" />
<line x1="246.88" y1="355.81" x2="252.68" y2="355.81" stroke="#161616" stroke-width="1.6" />
<line x1="254.03" y1="335.55" x2="254.03" y2="352.85" stroke="#161616" stroke-width="1.25" />
<line x1="251.13" y1="335.55" x2="256.93" y2="335.55" stroke="#161616" stroke-width="1.6" />
<line x1="251.13" y1="352.85" x2="256.93" y2="352.85" stroke="#161616" stroke-width="1.6" />
<line x1="258.28" y1="331.2" x2="258.28" y2="349.93" stroke="#161616" stroke-width="1.25" />
<line x1="255.38" y1="331.2" x2="261.18" y2="331.2" stroke="#161616" stroke-width="1.6" />
<line x1="255.38" y1="349.93" x2="261.18" y2="349.93" stroke="#161616" stroke-width="1.6" />
<line x1="262.52" y1="326.81" x2="262.52" y2="347.06" stroke="#161616" stroke-width="1.25" />
<line x1="259.62" y1="326.81" x2="265.42" y2="326.81" stroke="#161616" stroke-width="1.6" />
<line x1="259.62" y1="347.06" x2="265.42" y2="347.06" stroke="#161616" stroke-width="1.6" />
<line x1="266.77" y1="322.42" x2="266.77" y2="344.23" stroke="#161616" stroke-width="1.25" />
<line x1="263.87" y1="322.42" x2="269.67" y2="322.42" stroke="#161616" stroke-width="1.6" />
<line x1="263.87" y1="344.23" x2="269.67" y2="344.23" stroke="#161616" stroke-width="1.6" />
<line x1="271.02" y1="318.04" x2="271.02" y2="341.44" stroke="#161616" stroke-width="1.25" />
<line x1="268.12" y1="318.04" x2="273.92" y2="318.04" stroke="#161616" stroke-width="1.6" />
<line x1="268.12" y1="341.44" x2="273.92" y2="341.44" stroke="#161616" stroke-width="1.6" />
<line x1="275.27" y1="313.61" x2="275.27" y2="338.67" stroke="#161616" stroke-width="1.25" />
<line x1="272.37" y1="313.61" x2="278.17" y2="313.61" stroke="#161616" stroke-width="1.6" />
<line x1="272.37" y1="338.67" x2="278.17" y2="338.67" stroke="#161616" stroke-width="1.6" />
<line x1="279.52" y1="309.13" x2="279.52" y2="335.92" stroke="#161616" stroke-width="1.25" />
<line x1="276.62" y1="309.13" x2="282.42" y2="309.13" stroke="#161616" stroke-width="1.6" />
<line x1="276.62" y1="335.92" x2="282.42" y2="335.92" stroke="#161616" stroke-width="1.6" />
<line x1="283.76" y1="304.68" x2="283.76" y2="333.22" stroke="#161616" stroke-width="1.25" />
<line x1="280.86" y1="304.68" x2="286.66" y2="304.68" stroke="#161616" stroke-width="1.6" />
<line x1="280.86" y1="333.22" x2="286.66" y2="333.22" stroke="#161616" stroke-width="1.6" />
<line x1="288.01" y1="300.35" x2="288.01" y2="330.62" stroke="#161616" stroke-width="1.25" />
<line x1="285.11" y1="300.35" x2="290.91" y2="300.35" stroke="#161616" stroke-width="1.6" />
<line x1="285.11" y1="330.62" x2="290.91" y2="330.62" stroke="#161616" stroke-width="1.6" />
<line x1="292.26" y1="296.22" x2="292.26" y2="328.14" stroke="#161616" stroke-width="1.25" />
<line x1="289.36" y1="296.22" x2="295.16" y2="296.22" stroke="#161616" stroke-width="1.6" />
<line x1="289.36" y1="328.14" x2="295.16" y2="328.14" stroke="#161616" stroke-width="1.6" />
<line x1="296.51" y1="292.27" x2="296.51" y2="325.77" stroke="#161616" stroke-width="1.25" />
<line x1="293.61" y1="292.27" x2="299.41" y2="292.27" stroke="#161616" stroke-width="1.6" />
<line x1="293.61" y1="325.77" x2="299.41" y2="325.77" stroke="#161616" stroke-width="1.6" />
<line x1="300.76" y1="288.44" x2="300.76" y2="323.47" stroke="#161616" stroke-width="1.25" />
<line x1="297.86" y1="288.44" x2="303.66" y2="288.44" stroke="#161616" stroke-width="1.6" />
<line x1="297.86" y1="323.47" x2="303.66" y2="323.47" stroke="#161616" stroke-width="1.6" />
<line x1="305" y1="284.77" x2="305" y2="321.29" stroke="#161616" stroke-width="1.25" />
<line x1="302.1" y1="284.77" x2="307.9" y2="284.77" stroke="#161616" stroke-width="1.6" />
<line x1="302.1" y1="321.29" x2="307.9" y2="321.29" stroke="#161616" stroke-width="1.6" />
<line x1="309.25" y1="281.32" x2="309.25" y2="319.28" stroke="#161616" stroke-width="1.25" />
<line x1="306.35" y1="281.32" x2="312.15" y2="281.32" stroke="#161616" stroke-width="1.6" />
<line x1="306.35" y1="319.28" x2="312.15" y2="319.28" stroke="#161616" stroke-width="1.6" />
<line x1="313.5" y1="278.14" x2="313.5" y2="317.5" stroke="#161616" stroke-width="1.25" />
<line x1="310.6" y1="278.14" x2="316.4" y2="278.14" stroke="#161616" stroke-width="1.6" />
<line x1="310.6" y1="317.5" x2="316.4" y2="317.5" stroke="#161616" stroke-width="1.6" />
<line x1="317.75" y1="274.67" x2="317.75" y2="315.7" stroke="#161616" stroke-width="1.25" />
<line x1="314.85" y1="274.67" x2="320.65" y2="274.67" stroke="#161616" stroke-width="1.6" />
<line x1="314.85" y1="315.7" x2="320.65" y2="315.7" stroke="#161616" stroke-width="1.6" />
<line x1="322" y1="271.65" x2="322" y2="314.28" stroke="#161616" stroke-width="1.25" />
<line x1="319.1" y1="271.65" x2="324.9" y2="271.65" stroke="#161616" stroke-width="1.6" />
<line x1="319.1" y1="314.28" x2="324.9" y2="314.28" stroke="#161616" stroke-width="1.6" />
<line x1="326.24" y1="268.82" x2="326.24" y2="313" stroke="#161616" stroke-width="1.25" />
<line x1="323.34" y1="268.82" x2="329.14" y2="268.82" stroke="#161616" stroke-width="1.6" />
<line x1="323.34" y1="313" x2="329.14" y2="313" stroke="#161616" stroke-width="1.6" />
<line x1="330.49" y1="265.9" x2="330.49" y2="311.65" stroke="#161616" stroke-width="1.25" />
<line x1="327.59" y1="265.9" x2="333.39" y2="265.9" stroke="#161616" stroke-width="1.6" />
<line x1="327.59" y1="311.65" x2="333.39" y2="311.65" stroke="#161616" stroke-width="1.6" />
<polyline points="207,384.54 211.25,381.54 215.5,378.48 219.74,375.53 223.99,372.83 228.24,371.22 232.49,369.74 236.74,368.34 240.98,367 245.23,365.67 249.48,364.32 253.73,363.32 257.98,362.29 262.22,361.25 266.47,360.22 270.72,359.22 274.97,358.28 279.22,357.42 283.46,356.67 287.71,355.89 291.96,355.2 296.21,354.71 300.46,354.35 304.7,354.03 308.95,353.68 313.2,353.29 317.45,352.96 321.7,352.67 325.94,352.39 330.19,352.08" fill="none" stroke="#d5ccd3" stroke-width="2.4" stroke-linejoin="round"/>
<polyline points="207,384.54 211.25,381.02 215.5,377.49 219.74,373.96 223.99,370.46 228.24,366.98 232.49,363.52 236.74,360.08 240.98,356.66 245.23,353.28 249.48,349.96 253.73,346.66 257.98,343.39 262.22,340.18 266.47,337.03 270.72,334 274.97,331.01 279.22,328.05 283.46,325.21 287.71,322.56 291.96,320.16 296.21,318.04 300.46,316.12 304.7,314.42 308.95,312.93 313.2,311.65 317.45,310.48 321.7,309.72 325.94,309.13 330.19,308.46" fill="none" stroke="#a39e9c" stroke-width="2.2" stroke-linejoin="round"/>
<polyline points="207,384.54 211.25,380.91 215.5,377.28 219.74,373.64 223.99,370.03 228.24,366.45 232.49,362.89 236.74,359.36 240.98,355.85 245.23,352.36 249.48,348.89 253.73,345.43 257.98,341.97 262.22,338.54 266.47,335.16 270.72,331.87 274.97,328.6 279.22,325.35 283.46,322.19 287.71,319.19 291.96,316.44 296.21,313.92 300.46,311.58 304.7,309.44 308.95,307.51 313.2,305.8 317.45,304.1 321.7,302.81 325.94,301.69 330.19,300.48" fill="none" stroke="#5a5655" stroke-width="2.2" stroke-linejoin="round"/>
<polyline points="207,384.54 211.25,380.8 215.5,377.06 219.74,373.33 223.99,369.61 228.24,365.92 232.49,362.26 236.74,358.64 240.98,355.04 245.23,351.44 249.48,347.83 253.73,344.2 257.98,340.57 262.22,336.94 266.47,333.32 270.72,329.74 274.97,326.14 279.22,322.53 283.46,318.95 287.71,315.48 291.96,312.18 296.21,309.02 300.46,305.95 304.7,303.03 308.95,300.3 313.2,297.82 317.45,295.18 321.7,292.97 325.94,290.91 330.19,288.78" fill="none" stroke="#111111" stroke-width="2.4" stroke-linejoin="round"/>
<text x="343.4" y="241.3" font-size="10.8" fill="#333">E</text>
<text x="415.9" y="243.8" font-size="10.6" fill="#222">CXCL12-<tspan font-family='"Liberation Serif", serif' font-size="11.5">&#947;</tspan></text>
<line x1="380" y1="251" x2="380" y2="386.5" stroke="#1a1a1a" stroke-width="1.8" />
<line x1="379.1" y1="385.6" x2="506.8" y2="385.6" stroke="#1a1a1a" stroke-width="1.8" />
<line x1="376.8" y1="385.6" x2="380" y2="385.6" stroke="#1a1a1a" stroke-width="1.5" />
<text x="372.8" y="390.8" font-size="10.6" text-anchor="end" fill="#333">1.0</text>
<line x1="376.8" y1="359" x2="380" y2="359" stroke="#1a1a1a" stroke-width="1.5" />
<text x="372.8" y="364.2" font-size="10.6" text-anchor="end" fill="#333">1.5</text>
<line x1="376.8" y1="332.4" x2="380" y2="332.4" stroke="#1a1a1a" stroke-width="1.5" />
<text x="372.8" y="337.6" font-size="10.6" text-anchor="end" fill="#333">2.0</text>
<line x1="376.8" y1="305.8" x2="380" y2="305.8" stroke="#1a1a1a" stroke-width="1.5" />
<text x="372.8" y="311" font-size="10.6" text-anchor="end" fill="#333">2.5</text>
<line x1="376.8" y1="279.2" x2="380" y2="279.2" stroke="#1a1a1a" stroke-width="1.5" />
<text x="372.8" y="284.4" font-size="10.6" text-anchor="end" fill="#333">3.0</text>
<line x1="376.8" y1="252.6" x2="380" y2="252.6" stroke="#1a1a1a" stroke-width="1.5" />
<text x="372.8" y="257.8" font-size="10.6" text-anchor="end" fill="#333">3.5</text>
<line x1="379.8" y1="385.6" x2="379.8" y2="389" stroke="#1a1a1a" stroke-width="1.5" />
<text x="379.8" y="399.2" font-size="9.6" font-weight="bold" text-anchor="middle" fill="#111">0</text>
<line x1="421.9" y1="385.6" x2="421.9" y2="389" stroke="#1a1a1a" stroke-width="1.5" />
<text x="421.9" y="399.2" font-size="9.6" font-weight="bold" text-anchor="middle" fill="#111">20</text>
<line x1="464" y1="385.6" x2="464" y2="389" stroke="#1a1a1a" stroke-width="1.5" />
<text x="464" y="399.2" font-size="9.6" font-weight="bold" text-anchor="middle" fill="#111">40</text>
<line x1="506.1" y1="385.6" x2="506.1" y2="389" stroke="#1a1a1a" stroke-width="1.5" />
<text x="506.1" y="399.2" font-size="9.6" font-weight="bold" text-anchor="middle" fill="#111">60</text>
<text x="442.95" y="413" font-size="9.7" font-weight="bold" text-anchor="middle" fill="#111">Time (min)</text>
<line x1="382.71" y1="380.69" x2="382.71" y2="384.91" stroke="#161616" stroke-width="1.25" />
<line x1="379.81" y1="380.69" x2="385.61" y2="380.69" stroke="#161616" stroke-width="1.6" />
<line x1="379.81" y1="384.91" x2="385.61" y2="384.91" stroke="#161616" stroke-width="1.6" />
<line x1="386.92" y1="378.42" x2="386.92" y2="383.64" stroke="#161616" stroke-width="1.25" />
<line x1="384.02" y1="378.42" x2="389.82" y2="378.42" stroke="#161616" stroke-width="1.6" />
<line x1="384.02" y1="383.64" x2="389.82" y2="383.64" stroke="#161616" stroke-width="1.6" />
<line x1="391.13" y1="376.16" x2="391.13" y2="382.39" stroke="#161616" stroke-width="1.25" />
<line x1="388.23" y1="376.16" x2="394.03" y2="376.16" stroke="#161616" stroke-width="1.6" />
<line x1="388.23" y1="382.39" x2="394.03" y2="382.39" stroke="#161616" stroke-width="1.6" />
<line x1="395.34" y1="373.93" x2="395.34" y2="381.25" stroke="#161616" stroke-width="1.25" />
<line x1="392.44" y1="373.93" x2="398.24" y2="373.93" stroke="#161616" stroke-width="1.6" />
<line x1="392.44" y1="381.25" x2="398.24" y2="381.25" stroke="#161616" stroke-width="1.6" />
<line x1="399.55" y1="371.77" x2="399.55" y2="380.28" stroke="#161616" stroke-width="1.25" />
<line x1="396.65" y1="371.77" x2="402.45" y2="371.77" stroke="#161616" stroke-width="1.6" />
<line x1="396.65" y1="380.28" x2="402.45" y2="380.28" stroke="#161616" stroke-width="1.6" />
<line x1="403.76" y1="369.64" x2="403.76" y2="379.44" stroke="#161616" stroke-width="1.25" />
<line x1="400.86" y1="369.64" x2="406.66" y2="369.64" stroke="#161616" stroke-width="1.6" />
<line x1="400.86" y1="379.44" x2="406.66" y2="379.44" stroke="#161616" stroke-width="1.6" />
<line x1="407.97" y1="367.55" x2="407.97" y2="378.68" stroke="#161616" stroke-width="1.25" />
<line x1="405.07" y1="367.55" x2="410.87" y2="367.55" stroke="#161616" stroke-width="1.6" />
<line x1="405.07" y1="378.68" x2="410.87" y2="378.68" stroke="#161616" stroke-width="1.6" />
<line x1="412.18" y1="365.5" x2="412.18" y2="378.07" stroke="#161616" stroke-width="1.25" />
<line x1="409.28" y1="365.5" x2="415.08" y2="365.5" stroke="#161616" stroke-width="1.6" />
<line x1="409.28" y1="378.07" x2="415.08" y2="378.07" stroke="#161616" stroke-width="1.6" />
<line x1="416.39" y1="363.53" x2="416.39" y2="377.69" stroke="#161616" stroke-width="1.25" />
<line x1="413.49" y1="363.53" x2="419.29" y2="363.53" stroke="#161616" stroke-width="1.6" />
<line x1="413.49" y1="377.69" x2="419.29" y2="377.69" stroke="#161616" stroke-width="1.6" />
<line x1="420.6" y1="361.66" x2="420.6" y2="377.62" stroke="#161616" stroke-width="1.25" />
<line x1="417.7" y1="361.66" x2="423.5" y2="361.66" stroke="#161616" stroke-width="1.6" />
<line x1="417.7" y1="377.62" x2="423.5" y2="377.62" stroke="#161616" stroke-width="1.6" />
<line x1="424.81" y1="359.83" x2="424.81" y2="377.98" stroke="#161616" stroke-width="1.25" />
<line x1="421.91" y1="359.83" x2="427.71" y2="359.83" stroke="#161616" stroke-width="1.6" />
<line x1="421.91" y1="377.98" x2="427.71" y2="377.98" stroke="#161616" stroke-width="1.6" />
<line x1="429.02" y1="358.03" x2="429.02" y2="378.73" stroke="#161616" stroke-width="1.25" />
<line x1="426.12" y1="358.03" x2="431.92" y2="358.03" stroke="#161616" stroke-width="1.6" />
<line x1="426.12" y1="378.73" x2="431.92" y2="378.73" stroke="#161616" stroke-width="1.6" />
<line x1="433.23" y1="356.35" x2="433.23" y2="379.66" stroke="#161616" stroke-width="1.25" />
<line x1="430.33" y1="356.35" x2="436.13" y2="356.35" stroke="#161616" stroke-width="1.6" />
<line x1="430.33" y1="379.66" x2="436.13" y2="379.66" stroke="#161616" stroke-width="1.6" />
<line x1="437.44" y1="354.87" x2="437.44" y2="380.6" stroke="#161616" stroke-width="1.25" />
<line x1="434.54" y1="354.87" x2="440.34" y2="354.87" stroke="#161616" stroke-width="1.6" />
<line x1="434.54" y1="380.6" x2="440.34" y2="380.6" stroke="#161616" stroke-width="1.6" />
<line x1="441.65" y1="353.68" x2="441.65" y2="381.34" stroke="#161616" stroke-width="1.25" />
<line x1="438.75" y1="353.68" x2="444.55" y2="353.68" stroke="#161616" stroke-width="1.6" />
<line x1="438.75" y1="381.34" x2="444.55" y2="381.34" stroke="#161616" stroke-width="1.6" />
<line x1="445.86" y1="352.85" x2="445.86" y2="381.89" stroke="#161616" stroke-width="1.25" />
<line x1="442.96" y1="352.85" x2="448.76" y2="352.85" stroke="#161616" stroke-width="1.6" />
<line x1="442.96" y1="381.89" x2="448.76" y2="381.89" stroke="#161616" stroke-width="1.6" />
<line x1="450.07" y1="352.31" x2="450.07" y2="382.36" stroke="#161616" stroke-width="1.25" />
<line x1="447.17" y1="352.31" x2="452.97" y2="352.31" stroke="#161616" stroke-width="1.6" />
<line x1="447.17" y1="382.36" x2="452.97" y2="382.36" stroke="#161616" stroke-width="1.6" />
<line x1="454.28" y1="351.97" x2="454.28" y2="382.77" stroke="#161616" stroke-width="1.25" />
<line x1="451.38" y1="351.97" x2="457.18" y2="351.97" stroke="#161616" stroke-width="1.6" />
<line x1="451.38" y1="382.77" x2="457.18" y2="382.77" stroke="#161616" stroke-width="1.6" />
<line x1="458.49" y1="351.75" x2="458.49" y2="383.14" stroke="#161616" stroke-width="1.25" />
<line x1="455.59" y1="351.75" x2="461.39" y2="351.75" stroke="#161616" stroke-width="1.6" />
<line x1="455.59" y1="383.14" x2="461.39" y2="383.14" stroke="#161616" stroke-width="1.6" />
<line x1="462.7" y1="351.55" x2="462.7" y2="383.47" stroke="#161616" stroke-width="1.25" />
<line x1="459.8" y1="351.55" x2="465.6" y2="351.55" stroke="#161616" stroke-width="1.6" />
<line x1="459.8" y1="383.47" x2="465.6" y2="383.47" stroke="#161616" stroke-width="1.6" />
<line x1="466.91" y1="351.42" x2="466.91" y2="383.75" stroke="#161616" stroke-width="1.25" />
<line x1="464.01" y1="351.42" x2="469.81" y2="351.42" stroke="#161616" stroke-width="1.6" />
<line x1="464.01" y1="383.75" x2="469.81" y2="383.75" stroke="#161616" stroke-width="1.6" />
<line x1="471.12" y1="351.4" x2="471.12" y2="383.97" stroke="#161616" stroke-width="1.25" />
<line x1="468.22" y1="351.4" x2="474.02" y2="351.4" stroke="#161616" stroke-width="1.6" />
<line x1="468.22" y1="383.97" x2="474.02" y2="383.97" stroke="#161616" stroke-width="1.6" />
<line x1="475.33" y1="351.45" x2="475.33" y2="384.16" stroke="#161616" stroke-width="1.25" />
<line x1="472.43" y1="351.45" x2="478.23" y2="351.45" stroke="#161616" stroke-width="1.6" />
<line x1="472.43" y1="384.16" x2="478.23" y2="384.16" stroke="#161616" stroke-width="1.6" />
<line x1="479.54" y1="351.52" x2="479.54" y2="384.34" stroke="#161616" stroke-width="1.25" />
<line x1="476.64" y1="351.52" x2="482.44" y2="351.52" stroke="#161616" stroke-width="1.6" />
<line x1="476.64" y1="384.34" x2="482.44" y2="384.34" stroke="#161616" stroke-width="1.6" />
<line x1="483.75" y1="351.55" x2="483.75" y2="384.54" stroke="#161616" stroke-width="1.25" />
<line x1="480.85" y1="351.55" x2="486.65" y2="351.55" stroke="#161616" stroke-width="1.6" />
<line x1="480.85" y1="384.54" x2="486.65" y2="384.54" stroke="#161616" stroke-width="1.6" />
<line x1="487.96" y1="351.55" x2="487.96" y2="384.8" stroke="#161616" stroke-width="1.25" />
<line x1="485.06" y1="351.55" x2="490.86" y2="351.55" stroke="#161616" stroke-width="1.6" />
<line x1="485.06" y1="384.8" x2="490.86" y2="384.8" stroke="#161616" stroke-width="1.6" />
<line x1="492.17" y1="351.55" x2="492.17" y2="385" stroke="#161616" stroke-width="1.25" />
<line x1="489.27" y1="351.55" x2="495.07" y2="351.55" stroke="#161616" stroke-width="1.6" />
<line x1="496.38" y1="351.55" x2="496.38" y2="385" stroke="#161616" stroke-width="1.25" />
<line x1="493.48" y1="351.55" x2="499.28" y2="351.55" stroke="#161616" stroke-width="1.6" />
<line x1="500.59" y1="351.55" x2="500.59" y2="385" stroke="#161616" stroke-width="1.25" />
<line x1="497.69" y1="351.55" x2="503.49" y2="351.55" stroke="#161616" stroke-width="1.6" />
<line x1="382.71" y1="378.97" x2="382.71" y2="383.4" stroke="#161616" stroke-width="1.25" />
<line x1="379.81" y1="378.97" x2="385.61" y2="378.97" stroke="#161616" stroke-width="1.6" />
<line x1="379.81" y1="383.4" x2="385.61" y2="383.4" stroke="#161616" stroke-width="1.6" />
<line x1="386.92" y1="375.46" x2="386.92" y2="380.11" stroke="#161616" stroke-width="1.25" />
<line x1="384.02" y1="375.46" x2="389.82" y2="375.46" stroke="#161616" stroke-width="1.6" />
<line x1="384.02" y1="380.11" x2="389.82" y2="380.11" stroke="#161616" stroke-width="1.6" />
<line x1="391.13" y1="371.97" x2="391.13" y2="376.85" stroke="#161616" stroke-width="1.25" />
<line x1="388.23" y1="371.97" x2="394.03" y2="371.97" stroke="#161616" stroke-width="1.6" />
<line x1="388.23" y1="376.85" x2="394.03" y2="376.85" stroke="#161616" stroke-width="1.6" />
<line x1="395.34" y1="368.57" x2="395.34" y2="373.71" stroke="#161616" stroke-width="1.25" />
<line x1="392.44" y1="368.57" x2="398.24" y2="368.57" stroke="#161616" stroke-width="1.6" />
<line x1="392.44" y1="373.71" x2="398.24" y2="373.71" stroke="#161616" stroke-width="1.6" />
<line x1="399.55" y1="365.34" x2="399.55" y2="370.75" stroke="#161616" stroke-width="1.25" />
<line x1="396.65" y1="365.34" x2="402.45" y2="365.34" stroke="#161616" stroke-width="1.6" />
<line x1="396.65" y1="370.75" x2="402.45" y2="370.75" stroke="#161616" stroke-width="1.6" />
<line x1="403.76" y1="362.27" x2="403.76" y2="367.97" stroke="#161616" stroke-width="1.25" />
<line x1="400.86" y1="362.27" x2="406.66" y2="362.27" stroke="#161616" stroke-width="1.6" />
<line x1="400.86" y1="367.97" x2="406.66" y2="367.97" stroke="#161616" stroke-width="1.6" />
<line x1="407.97" y1="359.32" x2="407.97" y2="365.31" stroke="#161616" stroke-width="1.25" />
<line x1="405.07" y1="359.32" x2="410.87" y2="359.32" stroke="#161616" stroke-width="1.6" />
<line x1="405.07" y1="365.31" x2="410.87" y2="365.31" stroke="#161616" stroke-width="1.6" />
<line x1="412.18" y1="356.49" x2="412.18" y2="362.79" stroke="#161616" stroke-width="1.25" />
<line x1="409.28" y1="356.49" x2="415.08" y2="356.49" stroke="#161616" stroke-width="1.6" />
<line x1="409.28" y1="362.79" x2="415.08" y2="362.79" stroke="#161616" stroke-width="1.6" />
<line x1="416.39" y1="353.81" x2="416.39" y2="360.42" stroke="#161616" stroke-width="1.25" />
<line x1="413.49" y1="353.81" x2="419.29" y2="353.81" stroke="#161616" stroke-width="1.6" />
<line x1="413.49" y1="360.42" x2="419.29" y2="360.42" stroke="#161616" stroke-width="1.6" />
<line x1="420.6" y1="351.28" x2="420.6" y2="358.21" stroke="#161616" stroke-width="1.25" />
<line x1="417.7" y1="351.28" x2="423.5" y2="351.28" stroke="#161616" stroke-width="1.6" />
<line x1="417.7" y1="358.21" x2="423.5" y2="358.21" stroke="#161616" stroke-width="1.6" />
<line x1="424.81" y1="348.89" x2="424.81" y2="356.14" stroke="#161616" stroke-width="1.25" />
<line x1="421.91" y1="348.89" x2="427.71" y2="348.89" stroke="#161616" stroke-width="1.6" />
<line x1="421.91" y1="356.14" x2="427.71" y2="356.14" stroke="#161616" stroke-width="1.6" />
<line x1="429.02" y1="346.63" x2="429.02" y2="354.2" stroke="#161616" stroke-width="1.25" />
<line x1="426.12" y1="346.63" x2="431.92" y2="346.63" stroke="#161616" stroke-width="1.6" />
<line x1="426.12" y1="354.2" x2="431.92" y2="354.2" stroke="#161616" stroke-width="1.6" />
<line x1="433.23" y1="344.52" x2="433.23" y2="352.43" stroke="#161616" stroke-width="1.25" />
<line x1="430.33" y1="344.52" x2="436.13" y2="344.52" stroke="#161616" stroke-width="1.6" />
<line x1="430.33" y1="352.43" x2="436.13" y2="352.43" stroke="#161616" stroke-width="1.6" />
<line x1="437.44" y1="342.59" x2="437.44" y2="350.84" stroke="#161616" stroke-width="1.25" />
<line x1="434.54" y1="342.59" x2="440.34" y2="342.59" stroke="#161616" stroke-width="1.6" />
<line x1="434.54" y1="350.84" x2="440.34" y2="350.84" stroke="#161616" stroke-width="1.6" />
<line x1="441.65" y1="340.87" x2="441.65" y2="349.47" stroke="#161616" stroke-width="1.25" />
<line x1="438.75" y1="340.87" x2="444.55" y2="340.87" stroke="#161616" stroke-width="1.6" />
<line x1="438.75" y1="349.47" x2="444.55" y2="349.47" stroke="#161616" stroke-width="1.6" />
<line x1="445.86" y1="339.37" x2="445.86" y2="348.32" stroke="#161616" stroke-width="1.25" />
<line x1="442.96" y1="339.37" x2="448.76" y2="339.37" stroke="#161616" stroke-width="1.6" />
<line x1="442.96" y1="348.32" x2="448.76" y2="348.32" stroke="#161616" stroke-width="1.6" />
<line x1="450.07" y1="338.08" x2="450.07" y2="347.38" stroke="#161616" stroke-width="1.25" />
<line x1="447.17" y1="338.08" x2="452.97" y2="338.08" stroke="#161616" stroke-width="1.6" />
<line x1="447.17" y1="347.38" x2="452.97" y2="347.38" stroke="#161616" stroke-width="1.6" />
<line x1="454.28" y1="336.97" x2="454.28" y2="346.63" stroke="#161616" stroke-width="1.25" />
<line x1="451.38" y1="336.97" x2="457.18" y2="336.97" stroke="#161616" stroke-width="1.6" />
<line x1="451.38" y1="346.63" x2="457.18" y2="346.63" stroke="#161616" stroke-width="1.6" />
<line x1="458.49" y1="336.01" x2="458.49" y2="346.03" stroke="#161616" stroke-width="1.25" />
<line x1="455.59" y1="336.01" x2="461.39" y2="336.01" stroke="#161616" stroke-width="1.6" />
<line x1="455.59" y1="346.03" x2="461.39" y2="346.03" stroke="#161616" stroke-width="1.6" />
<line x1="462.7" y1="335.19" x2="462.7" y2="345.57" stroke="#161616" stroke-width="1.25" />
<line x1="459.8" y1="335.19" x2="465.6" y2="335.19" stroke="#161616" stroke-width="1.6" />
<line x1="459.8" y1="345.57" x2="465.6" y2="345.57" stroke="#161616" stroke-width="1.6" />
<line x1="466.91" y1="334.52" x2="466.91" y2="345.28" stroke="#161616" stroke-width="1.25" />
<line x1="464.01" y1="334.52" x2="469.81" y2="334.52" stroke="#161616" stroke-width="1.6" />
<line x1="464.01" y1="345.28" x2="469.81" y2="345.28" stroke="#161616" stroke-width="1.6" />
<line x1="471.12" y1="334.04" x2="471.12" y2="345.17" stroke="#161616" stroke-width="1.25" />
<line x1="468.22" y1="334.04" x2="474.02" y2="334.04" stroke="#161616" stroke-width="1.6" />
<line x1="468.22" y1="345.17" x2="474.02" y2="345.17" stroke="#161616" stroke-width="1.6" />
<line x1="475.33" y1="333.69" x2="475.33" y2="345.2" stroke="#161616" stroke-width="1.25" />
<line x1="472.43" y1="333.69" x2="478.23" y2="333.69" stroke="#161616" stroke-width="1.6" />
<line x1="472.43" y1="345.2" x2="478.23" y2="345.2" stroke="#161616" stroke-width="1.6" />
<line x1="479.54" y1="333.42" x2="479.54" y2="345.31" stroke="#161616" stroke-width="1.25" />
<line x1="476.64" y1="333.42" x2="482.44" y2="333.42" stroke="#161616" stroke-width="1.6" />
<line x1="476.64" y1="345.31" x2="482.44" y2="345.31" stroke="#161616" stroke-width="1.6" />
<line x1="483.75" y1="333.18" x2="483.75" y2="345.45" stroke="#161616" stroke-width="1.25" />
<line x1="480.85" y1="333.18" x2="486.65" y2="333.18" stroke="#161616" stroke-width="1.6" />
<line x1="480.85" y1="345.45" x2="486.65" y2="345.45" stroke="#161616" stroke-width="1.6" />
<line x1="487.96" y1="333.01" x2="487.96" y2="345.66" stroke="#161616" stroke-width="1.25" />
<line x1="485.06" y1="333.01" x2="490.86" y2="333.01" stroke="#161616" stroke-width="1.6" />
<line x1="485.06" y1="345.66" x2="490.86" y2="345.66" stroke="#161616" stroke-width="1.6" />
<line x1="492.17" y1="332.96" x2="492.17" y2="346" stroke="#161616" stroke-width="1.25" />
<line x1="489.27" y1="332.96" x2="495.07" y2="332.96" stroke="#161616" stroke-width="1.6" />
<line x1="489.27" y1="346" x2="495.07" y2="346" stroke="#161616" stroke-width="1.6" />
<line x1="496.38" y1="332.96" x2="496.38" y2="346.4" stroke="#161616" stroke-width="1.25" />
<line x1="493.48" y1="332.96" x2="499.28" y2="332.96" stroke="#161616" stroke-width="1.6" />
<line x1="493.48" y1="346.4" x2="499.28" y2="346.4" stroke="#161616" stroke-width="1.6" />
<line x1="500.59" y1="332.93" x2="500.59" y2="346.76" stroke="#161616" stroke-width="1.25" />
<line x1="497.69" y1="332.93" x2="503.49" y2="332.93" stroke="#161616" stroke-width="1.6" />
<line x1="497.69" y1="346.76" x2="503.49" y2="346.76" stroke="#161616" stroke-width="1.6" />
<line x1="382.71" y1="378.08" x2="382.71" y2="383.87" stroke="#161616" stroke-width="1.25" />
<line x1="379.81" y1="378.08" x2="385.61" y2="378.08" stroke="#161616" stroke-width="1.6" />
<line x1="379.81" y1="383.87" x2="385.61" y2="383.87" stroke="#161616" stroke-width="1.6" />
<line x1="386.92" y1="374.16" x2="386.92" y2="380.56" stroke="#161616" stroke-width="1.25" />
<line x1="384.02" y1="374.16" x2="389.82" y2="374.16" stroke="#161616" stroke-width="1.6" />
<line x1="384.02" y1="380.56" x2="389.82" y2="380.56" stroke="#161616" stroke-width="1.6" />
<line x1="391.13" y1="370.24" x2="391.13" y2="377.31" stroke="#161616" stroke-width="1.25" />
<line x1="388.23" y1="370.24" x2="394.03" y2="370.24" stroke="#161616" stroke-width="1.6" />
<line x1="388.23" y1="377.31" x2="394.03" y2="377.31" stroke="#161616" stroke-width="1.6" />
<line x1="395.34" y1="366.39" x2="395.34" y2="374.18" stroke="#161616" stroke-width="1.25" />
<line x1="392.44" y1="366.39" x2="398.24" y2="366.39" stroke="#161616" stroke-width="1.6" />
<line x1="392.44" y1="374.18" x2="398.24" y2="374.18" stroke="#161616" stroke-width="1.6" />
<line x1="399.55" y1="362.71" x2="399.55" y2="371.25" stroke="#161616" stroke-width="1.25" />
<line x1="396.65" y1="362.71" x2="402.45" y2="362.71" stroke="#161616" stroke-width="1.6" />
<line x1="396.65" y1="371.25" x2="402.45" y2="371.25" stroke="#161616" stroke-width="1.6" />
<line x1="403.76" y1="359.21" x2="403.76" y2="368.55" stroke="#161616" stroke-width="1.25" />
<line x1="400.86" y1="359.21" x2="406.66" y2="359.21" stroke="#161616" stroke-width="1.6" />
<line x1="400.86" y1="368.55" x2="406.66" y2="368.55" stroke="#161616" stroke-width="1.6" />
<line x1="407.97" y1="355.85" x2="407.97" y2="366" stroke="#161616" stroke-width="1.25" />
<line x1="405.07" y1="355.85" x2="410.87" y2="355.85" stroke="#161616" stroke-width="1.6" />
<line x1="405.07" y1="366" x2="410.87" y2="366" stroke="#161616" stroke-width="1.6" />
<line x1="412.18" y1="352.6" x2="412.18" y2="363.59" stroke="#161616" stroke-width="1.25" />
<line x1="409.28" y1="352.6" x2="415.08" y2="352.6" stroke="#161616" stroke-width="1.6" />
<line x1="409.28" y1="363.59" x2="415.08" y2="363.59" stroke="#161616" stroke-width="1.6" />
<line x1="416.39" y1="349.41" x2="416.39" y2="361.26" stroke="#161616" stroke-width="1.25" />
<line x1="413.49" y1="349.41" x2="419.29" y2="349.41" stroke="#161616" stroke-width="1.6" />
<line x1="413.49" y1="361.26" x2="419.29" y2="361.26" stroke="#161616" stroke-width="1.6" />
<line x1="420.6" y1="346.25" x2="420.6" y2="358.98" stroke="#161616" stroke-width="1.25" />
<line x1="417.7" y1="346.25" x2="423.5" y2="346.25" stroke="#161616" stroke-width="1.6" />
<line x1="417.7" y1="358.98" x2="423.5" y2="358.98" stroke="#161616" stroke-width="1.6" />
<line x1="424.81" y1="343.04" x2="424.81" y2="356.67" stroke="#161616" stroke-width="1.25" />
<line x1="421.91" y1="343.04" x2="427.71" y2="343.04" stroke="#161616" stroke-width="1.6" />
<line x1="421.91" y1="356.67" x2="427.71" y2="356.67" stroke="#161616" stroke-width="1.6" />
<line x1="429.02" y1="339.81" x2="429.02" y2="354.36" stroke="#161616" stroke-width="1.25" />
<line x1="426.12" y1="339.81" x2="431.92" y2="339.81" stroke="#161616" stroke-width="1.6" />
<line x1="426.12" y1="354.36" x2="431.92" y2="354.36" stroke="#161616" stroke-width="1.6" />
<line x1="433.23" y1="336.68" x2="433.23" y2="352.16" stroke="#161616" stroke-width="1.25" />
<line x1="430.33" y1="336.68" x2="436.13" y2="336.68" stroke="#161616" stroke-width="1.6" />
<line x1="430.33" y1="352.16" x2="436.13" y2="352.16" stroke="#161616" stroke-width="1.6" />
<line x1="437.44" y1="333.76" x2="437.44" y2="350.18" stroke="#161616" stroke-width="1.25" />
<line x1="434.54" y1="333.76" x2="440.34" y2="333.76" stroke="#161616" stroke-width="1.6" />
<line x1="434.54" y1="350.18" x2="440.34" y2="350.18" stroke="#161616" stroke-width="1.6" />
<line x1="441.65" y1="331.16" x2="441.65" y2="348.54" stroke="#161616" stroke-width="1.25" />
<line x1="438.75" y1="331.16" x2="444.55" y2="331.16" stroke="#161616" stroke-width="1.6" />
<line x1="438.75" y1="348.54" x2="444.55" y2="348.54" stroke="#161616" stroke-width="1.6" />
<line x1="445.86" y1="328.93" x2="445.86" y2="347.28" stroke="#161616" stroke-width="1.25" />
<line x1="442.96" y1="328.93" x2="448.76" y2="328.93" stroke="#161616" stroke-width="1.6" />
<line x1="442.96" y1="347.28" x2="448.76" y2="347.28" stroke="#161616" stroke-width="1.6" />
<line x1="450.07" y1="326.99" x2="450.07" y2="346.32" stroke="#161616" stroke-width="1.25" />
<line x1="447.17" y1="326.99" x2="452.97" y2="326.99" stroke="#161616" stroke-width="1.6" />
<line x1="447.17" y1="346.32" x2="452.97" y2="346.32" stroke="#161616" stroke-width="1.6" />
<line x1="454.28" y1="325.28" x2="454.28" y2="345.61" stroke="#161616" stroke-width="1.25" />
<line x1="451.38" y1="325.28" x2="457.18" y2="325.28" stroke="#161616" stroke-width="1.6" />
<line x1="451.38" y1="345.61" x2="457.18" y2="345.61" stroke="#161616" stroke-width="1.6" />
<line x1="458.49" y1="323.73" x2="458.49" y2="345.07" stroke="#161616" stroke-width="1.25" />
<line x1="455.59" y1="323.73" x2="461.39" y2="323.73" stroke="#161616" stroke-width="1.6" />
<line x1="455.59" y1="345.07" x2="461.39" y2="345.07" stroke="#161616" stroke-width="1.6" />
<line x1="462.7" y1="322.29" x2="462.7" y2="344.64" stroke="#161616" stroke-width="1.25" />
<line x1="459.8" y1="322.29" x2="465.6" y2="322.29" stroke="#161616" stroke-width="1.6" />
<line x1="459.8" y1="344.64" x2="465.6" y2="344.64" stroke="#161616" stroke-width="1.6" />
<line x1="466.91" y1="320.96" x2="466.91" y2="344.34" stroke="#161616" stroke-width="1.25" />
<line x1="464.01" y1="320.96" x2="469.81" y2="320.96" stroke="#161616" stroke-width="1.6" />
<line x1="464.01" y1="344.34" x2="469.81" y2="344.34" stroke="#161616" stroke-width="1.6" />
<line x1="471.12" y1="319.8" x2="471.12" y2="344.21" stroke="#161616" stroke-width="1.25" />
<line x1="468.22" y1="319.8" x2="474.02" y2="319.8" stroke="#161616" stroke-width="1.6" />
<line x1="468.22" y1="344.21" x2="474.02" y2="344.21" stroke="#161616" stroke-width="1.6" />
<line x1="475.33" y1="318.77" x2="475.33" y2="344.23" stroke="#161616" stroke-width="1.25" />
<line x1="472.43" y1="318.77" x2="478.23" y2="318.77" stroke="#161616" stroke-width="1.6" />
<line x1="472.43" y1="344.23" x2="478.23" y2="344.23" stroke="#161616" stroke-width="1.6" />
<line x1="479.54" y1="317.85" x2="479.54" y2="344.36" stroke="#161616" stroke-width="1.25" />
<line x1="476.64" y1="317.85" x2="482.44" y2="317.85" stroke="#161616" stroke-width="1.6" />
<line x1="476.64" y1="344.36" x2="482.44" y2="344.36" stroke="#161616" stroke-width="1.6" />
<line x1="483.75" y1="317.01" x2="483.75" y2="344.59" stroke="#161616" stroke-width="1.25" />
<line x1="480.85" y1="317.01" x2="486.65" y2="317.01" stroke="#161616" stroke-width="1.6" />
<line x1="480.85" y1="344.59" x2="486.65" y2="344.59" stroke="#161616" stroke-width="1.6" />
<line x1="487.96" y1="316.29" x2="487.96" y2="344.94" stroke="#161616" stroke-width="1.25" />
<line x1="485.06" y1="316.29" x2="490.86" y2="316.29" stroke="#161616" stroke-width="1.6" />
<line x1="485.06" y1="344.94" x2="490.86" y2="344.94" stroke="#161616" stroke-width="1.6" />
<line x1="492.17" y1="315.77" x2="492.17" y2="345.5" stroke="#161616" stroke-width="1.25" />
<line x1="489.27" y1="315.77" x2="495.07" y2="315.77" stroke="#161616" stroke-width="1.6" />
<line x1="489.27" y1="345.5" x2="495.07" y2="345.5" stroke="#161616" stroke-width="1.6" />
<line x1="496.38" y1="315.33" x2="496.38" y2="346.15" stroke="#161616" stroke-width="1.25" />
<line x1="493.48" y1="315.33" x2="499.28" y2="315.33" stroke="#161616" stroke-width="1.6" />
<line x1="493.48" y1="346.15" x2="499.28" y2="346.15" stroke="#161616" stroke-width="1.6" />
<line x1="500.59" y1="314.84" x2="500.59" y2="346.76" stroke="#161616" stroke-width="1.25" />
<line x1="497.69" y1="314.84" x2="503.49" y2="314.84" stroke="#161616" stroke-width="1.6" />
<line x1="497.69" y1="346.76" x2="503.49" y2="346.76" stroke="#161616" stroke-width="1.6" />
<line x1="382.71" y1="378.01" x2="382.71" y2="383.8" stroke="#161616" stroke-width="1.25" />
<line x1="379.81" y1="378.01" x2="385.61" y2="378.01" stroke="#161616" stroke-width="1.6" />
<line x1="379.81" y1="383.8" x2="385.61" y2="383.8" stroke="#161616" stroke-width="1.6" />
<line x1="386.92" y1="374.05" x2="386.92" y2="380.45" stroke="#161616" stroke-width="1.25" />
<line x1="384.02" y1="374.05" x2="389.82" y2="374.05" stroke="#161616" stroke-width="1.6" />
<line x1="384.02" y1="380.45" x2="389.82" y2="380.45" stroke="#161616" stroke-width="1.6" />
<line x1="391.13" y1="370.07" x2="391.13" y2="377.14" stroke="#161616" stroke-width="1.25" />
<line x1="388.23" y1="370.07" x2="394.03" y2="370.07" stroke="#161616" stroke-width="1.6" />
<line x1="388.23" y1="377.14" x2="394.03" y2="377.14" stroke="#161616" stroke-width="1.6" />
<line x1="395.34" y1="366.1" x2="395.34" y2="373.89" stroke="#161616" stroke-width="1.25" />
<line x1="392.44" y1="366.1" x2="398.24" y2="366.1" stroke="#161616" stroke-width="1.6" />
<line x1="392.44" y1="373.89" x2="398.24" y2="373.89" stroke="#161616" stroke-width="1.6" />
<line x1="399.55" y1="362.17" x2="399.55" y2="370.72" stroke="#161616" stroke-width="1.25" />
<line x1="396.65" y1="362.17" x2="402.45" y2="362.17" stroke="#161616" stroke-width="1.6" />
<line x1="396.65" y1="370.72" x2="402.45" y2="370.72" stroke="#161616" stroke-width="1.6" />
<line x1="403.76" y1="358.26" x2="403.76" y2="367.6" stroke="#161616" stroke-width="1.25" />
<line x1="400.86" y1="358.26" x2="406.66" y2="358.26" stroke="#161616" stroke-width="1.6" />
<line x1="400.86" y1="367.6" x2="406.66" y2="367.6" stroke="#161616" stroke-width="1.6" />
<line x1="407.97" y1="354.36" x2="407.97" y2="364.51" stroke="#161616" stroke-width="1.25" />
<line x1="405.07" y1="354.36" x2="410.87" y2="354.36" stroke="#161616" stroke-width="1.6" />
<line x1="405.07" y1="364.51" x2="410.87" y2="364.51" stroke="#161616" stroke-width="1.6" />
<line x1="412.18" y1="350.5" x2="412.18" y2="361.49" stroke="#161616" stroke-width="1.25" />
<line x1="409.28" y1="350.5" x2="415.08" y2="350.5" stroke="#161616" stroke-width="1.6" />
<line x1="409.28" y1="361.49" x2="415.08" y2="361.49" stroke="#161616" stroke-width="1.6" />
<line x1="416.39" y1="346.72" x2="416.39" y2="358.57" stroke="#161616" stroke-width="1.25" />
<line x1="413.49" y1="346.72" x2="419.29" y2="346.72" stroke="#161616" stroke-width="1.6" />
<line x1="413.49" y1="358.57" x2="419.29" y2="358.57" stroke="#161616" stroke-width="1.6" />
<line x1="420.6" y1="343.06" x2="420.6" y2="355.79" stroke="#161616" stroke-width="1.25" />
<line x1="417.7" y1="343.06" x2="423.5" y2="343.06" stroke="#161616" stroke-width="1.6" />
<line x1="417.7" y1="355.79" x2="423.5" y2="355.79" stroke="#161616" stroke-width="1.6" />
<line x1="424.81" y1="339.49" x2="424.81" y2="353.12" stroke="#161616" stroke-width="1.25" />
<line x1="421.91" y1="339.49" x2="427.71" y2="339.49" stroke="#161616" stroke-width="1.6" />
<line x1="421.91" y1="353.12" x2="427.71" y2="353.12" stroke="#161616" stroke-width="1.6" />
<line x1="429.02" y1="335.98" x2="429.02" y2="350.53" stroke="#161616" stroke-width="1.25" />
<line x1="426.12" y1="335.98" x2="431.92" y2="335.98" stroke="#161616" stroke-width="1.6" />
<line x1="426.12" y1="350.53" x2="431.92" y2="350.53" stroke="#161616" stroke-width="1.6" />
<line x1="433.23" y1="332.6" x2="433.23" y2="348.07" stroke="#161616" stroke-width="1.25" />
<line x1="430.33" y1="332.6" x2="436.13" y2="332.6" stroke="#161616" stroke-width="1.6" />
<line x1="430.33" y1="348.07" x2="436.13" y2="348.07" stroke="#161616" stroke-width="1.6" />
<line x1="437.44" y1="329.37" x2="437.44" y2="345.79" stroke="#161616" stroke-width="1.25" />
<line x1="434.54" y1="329.37" x2="440.34" y2="329.37" stroke="#161616" stroke-width="1.6" />
<line x1="434.54" y1="345.79" x2="440.34" y2="345.79" stroke="#161616" stroke-width="1.6" />
<line x1="441.65" y1="326.37" x2="441.65" y2="343.75" stroke="#161616" stroke-width="1.25" />
<line x1="438.75" y1="326.37" x2="444.55" y2="326.37" stroke="#161616" stroke-width="1.6" />
<line x1="438.75" y1="343.75" x2="444.55" y2="343.75" stroke="#161616" stroke-width="1.6" />
<line x1="445.86" y1="323.63" x2="445.86" y2="341.98" stroke="#161616" stroke-width="1.25" />
<line x1="442.96" y1="323.63" x2="448.76" y2="323.63" stroke="#161616" stroke-width="1.6" />
<line x1="442.96" y1="341.98" x2="448.76" y2="341.98" stroke="#161616" stroke-width="1.6" />
<line x1="450.07" y1="321.12" x2="450.07" y2="340.45" stroke="#161616" stroke-width="1.25" />
<line x1="447.17" y1="321.12" x2="452.97" y2="321.12" stroke="#161616" stroke-width="1.6" />
<line x1="447.17" y1="340.45" x2="452.97" y2="340.45" stroke="#161616" stroke-width="1.6" />
<line x1="454.28" y1="318.77" x2="454.28" y2="339.1" stroke="#161616" stroke-width="1.25" />
<line x1="451.38" y1="318.77" x2="457.18" y2="318.77" stroke="#161616" stroke-width="1.6" />
<line x1="451.38" y1="339.1" x2="457.18" y2="339.1" stroke="#161616" stroke-width="1.6" />
<line x1="458.49" y1="316.52" x2="458.49" y2="337.85" stroke="#161616" stroke-width="1.25" />
<line x1="455.59" y1="316.52" x2="461.39" y2="316.52" stroke="#161616" stroke-width="1.6" />
<line x1="455.59" y1="337.85" x2="461.39" y2="337.85" stroke="#161616" stroke-width="1.6" />
<line x1="462.7" y1="314.31" x2="462.7" y2="336.66" stroke="#161616" stroke-width="1.25" />
<line x1="459.8" y1="314.31" x2="465.6" y2="314.31" stroke="#161616" stroke-width="1.6" />
<line x1="459.8" y1="336.66" x2="465.6" y2="336.66" stroke="#161616" stroke-width="1.6" />
<line x1="466.91" y1="312.1" x2="466.91" y2="335.48" stroke="#161616" stroke-width="1.25" />
<line x1="464.01" y1="312.1" x2="469.81" y2="312.1" stroke="#161616" stroke-width="1.6" />
<line x1="464.01" y1="335.48" x2="469.81" y2="335.48" stroke="#161616" stroke-width="1.6" />
<line x1="471.12" y1="309.94" x2="471.12" y2="334.35" stroke="#161616" stroke-width="1.25" />
<line x1="468.22" y1="309.94" x2="474.02" y2="309.94" stroke="#161616" stroke-width="1.6" />
<line x1="468.22" y1="334.35" x2="474.02" y2="334.35" stroke="#161616" stroke-width="1.6" />
<line x1="475.33" y1="307.88" x2="475.33" y2="333.34" stroke="#161616" stroke-width="1.25" />
<line x1="472.43" y1="307.88" x2="478.23" y2="307.88" stroke="#161616" stroke-width="1.6" />
<line x1="472.43" y1="333.34" x2="478.23" y2="333.34" stroke="#161616" stroke-width="1.6" />
<line x1="479.54" y1="305.96" x2="479.54" y2="332.48" stroke="#161616" stroke-width="1.25" />
<line x1="476.64" y1="305.96" x2="482.44" y2="305.96" stroke="#161616" stroke-width="1.6" />
<line x1="476.64" y1="332.48" x2="482.44" y2="332.48" stroke="#161616" stroke-width="1.6" />
<line x1="483.75" y1="304.25" x2="483.75" y2="331.83" stroke="#161616" stroke-width="1.25" />
<line x1="480.85" y1="304.25" x2="486.65" y2="304.25" stroke="#161616" stroke-width="1.6" />
<line x1="480.85" y1="331.83" x2="486.65" y2="331.83" stroke="#161616" stroke-width="1.6" />
<line x1="487.96" y1="302.61" x2="487.96" y2="331.27" stroke="#161616" stroke-width="1.25" />
<line x1="485.06" y1="302.61" x2="490.86" y2="302.61" stroke="#161616" stroke-width="1.6" />
<line x1="485.06" y1="331.27" x2="490.86" y2="331.27" stroke="#161616" stroke-width="1.6" />
<line x1="492.17" y1="301.31" x2="492.17" y2="331.04" stroke="#161616" stroke-width="1.25" />
<line x1="489.27" y1="301.31" x2="495.07" y2="301.31" stroke="#161616" stroke-width="1.6" />
<line x1="489.27" y1="331.04" x2="495.07" y2="331.04" stroke="#161616" stroke-width="1.6" />
<line x1="496.38" y1="300.13" x2="496.38" y2="330.95" stroke="#161616" stroke-width="1.25" />
<line x1="493.48" y1="300.13" x2="499.28" y2="300.13" stroke="#161616" stroke-width="1.6" />
<line x1="493.48" y1="330.95" x2="499.28" y2="330.95" stroke="#161616" stroke-width="1.6" />
<line x1="500.59" y1="298.88" x2="500.59" y2="330.8" stroke="#161616" stroke-width="1.25" />
<line x1="497.69" y1="298.88" x2="503.49" y2="298.88" stroke="#161616" stroke-width="1.6" />
<line x1="497.69" y1="330.8" x2="503.49" y2="330.8" stroke="#161616" stroke-width="1.6" />
<line x1="384.31" y1="377.96" x2="384.31" y2="383.9" stroke="#161616" stroke-width="1.25" />
<line x1="381.41" y1="377.96" x2="387.21" y2="377.96" stroke="#161616" stroke-width="1.6" />
<line x1="381.41" y1="383.9" x2="387.21" y2="383.9" stroke="#161616" stroke-width="1.6" />
<line x1="388.52" y1="373.96" x2="388.52" y2="380.7" stroke="#161616" stroke-width="1.25" />
<line x1="385.62" y1="373.96" x2="391.42" y2="373.96" stroke="#161616" stroke-width="1.6" />
<line x1="385.62" y1="380.7" x2="391.42" y2="380.7" stroke="#161616" stroke-width="1.6" />
<line x1="392.73" y1="369.91" x2="392.73" y2="377.54" stroke="#161616" stroke-width="1.25" />
<line x1="389.83" y1="369.91" x2="395.63" y2="369.91" stroke="#161616" stroke-width="1.6" />
<line x1="389.83" y1="377.54" x2="395.63" y2="377.54" stroke="#161616" stroke-width="1.6" />
<line x1="396.94" y1="365.81" x2="396.94" y2="374.39" stroke="#161616" stroke-width="1.25" />
<line x1="394.04" y1="365.81" x2="399.84" y2="365.81" stroke="#161616" stroke-width="1.6" />
<line x1="394.04" y1="374.39" x2="399.84" y2="374.39" stroke="#161616" stroke-width="1.6" />
<line x1="401.15" y1="361.66" x2="401.15" y2="371.24" stroke="#161616" stroke-width="1.25" />
<line x1="398.25" y1="361.66" x2="404.05" y2="361.66" stroke="#161616" stroke-width="1.6" />
<line x1="398.25" y1="371.24" x2="404.05" y2="371.24" stroke="#161616" stroke-width="1.6" />
<line x1="405.36" y1="357.45" x2="405.36" y2="368.07" stroke="#161616" stroke-width="1.25" />
<line x1="402.46" y1="357.45" x2="408.26" y2="357.45" stroke="#161616" stroke-width="1.6" />
<line x1="402.46" y1="368.07" x2="408.26" y2="368.07" stroke="#161616" stroke-width="1.6" />
<line x1="409.57" y1="353.19" x2="409.57" y2="364.89" stroke="#161616" stroke-width="1.25" />
<line x1="406.67" y1="353.19" x2="412.47" y2="353.19" stroke="#161616" stroke-width="1.6" />
<line x1="406.67" y1="364.89" x2="412.47" y2="364.89" stroke="#161616" stroke-width="1.6" />
<line x1="413.78" y1="348.9" x2="413.78" y2="361.7" stroke="#161616" stroke-width="1.25" />
<line x1="410.88" y1="348.9" x2="416.68" y2="348.9" stroke="#161616" stroke-width="1.6" />
<line x1="410.88" y1="361.7" x2="416.68" y2="361.7" stroke="#161616" stroke-width="1.6" />
<line x1="417.99" y1="344.59" x2="417.99" y2="358.53" stroke="#161616" stroke-width="1.25" />
<line x1="415.09" y1="344.59" x2="420.89" y2="344.59" stroke="#161616" stroke-width="1.6" />
<line x1="415.09" y1="358.53" x2="420.89" y2="358.53" stroke="#161616" stroke-width="1.6" />
<line x1="422.2" y1="340.28" x2="422.2" y2="355.38" stroke="#161616" stroke-width="1.25" />
<line x1="419.3" y1="340.28" x2="425.1" y2="340.28" stroke="#161616" stroke-width="1.6" />
<line x1="419.3" y1="355.38" x2="425.1" y2="355.38" stroke="#161616" stroke-width="1.6" />
<line x1="426.41" y1="335.91" x2="426.41" y2="352.2" stroke="#161616" stroke-width="1.25" />
<line x1="423.51" y1="335.91" x2="429.31" y2="335.91" stroke="#161616" stroke-width="1.6" />
<line x1="423.51" y1="352.2" x2="429.31" y2="352.2" stroke="#161616" stroke-width="1.6" />
<line x1="430.62" y1="331.48" x2="430.62" y2="348.98" stroke="#161616" stroke-width="1.25" />
<line x1="427.72" y1="331.48" x2="433.52" y2="331.48" stroke="#161616" stroke-width="1.6" />
<line x1="427.72" y1="348.98" x2="433.52" y2="348.98" stroke="#161616" stroke-width="1.6" />
<line x1="434.83" y1="327.06" x2="434.83" y2="345.79" stroke="#161616" stroke-width="1.25" />
<line x1="431.93" y1="327.06" x2="437.73" y2="327.06" stroke="#161616" stroke-width="1.6" />
<line x1="431.93" y1="345.79" x2="437.73" y2="345.79" stroke="#161616" stroke-width="1.6" />
<line x1="439.04" y1="322.74" x2="439.04" y2="342.71" stroke="#161616" stroke-width="1.25" />
<line x1="436.14" y1="322.74" x2="441.94" y2="322.74" stroke="#161616" stroke-width="1.6" />
<line x1="436.14" y1="342.71" x2="441.94" y2="342.71" stroke="#161616" stroke-width="1.6" />
<line x1="443.25" y1="318.59" x2="443.25" y2="339.83" stroke="#161616" stroke-width="1.25" />
<line x1="440.35" y1="318.59" x2="446.15" y2="318.59" stroke="#161616" stroke-width="1.6" />
<line x1="440.35" y1="339.83" x2="446.15" y2="339.83" stroke="#161616" stroke-width="1.6" />
<line x1="447.46" y1="314.62" x2="447.46" y2="337.14" stroke="#161616" stroke-width="1.25" />
<line x1="444.56" y1="314.62" x2="450.36" y2="314.62" stroke="#161616" stroke-width="1.6" />
<line x1="444.56" y1="337.14" x2="450.36" y2="337.14" stroke="#161616" stroke-width="1.6" />
<line x1="451.67" y1="310.8" x2="451.67" y2="334.61" stroke="#161616" stroke-width="1.25" />
<line x1="448.77" y1="310.8" x2="454.57" y2="310.8" stroke="#161616" stroke-width="1.6" />
<line x1="448.77" y1="334.61" x2="454.57" y2="334.61" stroke="#161616" stroke-width="1.6" />
<line x1="455.88" y1="307.08" x2="455.88" y2="332.21" stroke="#161616" stroke-width="1.25" />
<line x1="452.98" y1="307.08" x2="458.78" y2="307.08" stroke="#161616" stroke-width="1.6" />
<line x1="452.98" y1="332.21" x2="458.78" y2="332.21" stroke="#161616" stroke-width="1.6" />
<line x1="460.09" y1="303.45" x2="460.09" y2="329.91" stroke="#161616" stroke-width="1.25" />
<line x1="457.19" y1="303.45" x2="462.99" y2="303.45" stroke="#161616" stroke-width="1.6" />
<line x1="457.19" y1="329.91" x2="462.99" y2="329.91" stroke="#161616" stroke-width="1.6" />
<line x1="464.3" y1="299.88" x2="464.3" y2="327.68" stroke="#161616" stroke-width="1.25" />
<line x1="461.4" y1="299.88" x2="467.2" y2="299.88" stroke="#161616" stroke-width="1.6" />
<line x1="461.4" y1="327.68" x2="467.2" y2="327.68" stroke="#161616" stroke-width="1.6" />
<line x1="468.51" y1="296.32" x2="468.51" y2="325.48" stroke="#161616" stroke-width="1.25" />
<line x1="465.61" y1="296.32" x2="471.41" y2="296.32" stroke="#161616" stroke-width="1.6" />
<line x1="465.61" y1="325.48" x2="471.41" y2="325.48" stroke="#161616" stroke-width="1.6" />
<line x1="472.72" y1="292.79" x2="472.72" y2="323.31" stroke="#161616" stroke-width="1.25" />
<line x1="469.82" y1="292.79" x2="475.62" y2="292.79" stroke="#161616" stroke-width="1.6" />
<line x1="469.82" y1="323.31" x2="475.62" y2="323.31" stroke="#161616" stroke-width="1.6" />
<line x1="476.93" y1="289.36" x2="476.93" y2="321.27" stroke="#161616" stroke-width="1.25" />
<line x1="474.03" y1="289.36" x2="479.83" y2="289.36" stroke="#161616" stroke-width="1.6" />
<line x1="474.03" y1="321.27" x2="479.83" y2="321.27" stroke="#161616" stroke-width="1.6" />
<line x1="481.14" y1="286.12" x2="481.14" y2="319.41" stroke="#161616" stroke-width="1.25" />
<line x1="478.24" y1="286.12" x2="484.04" y2="286.12" stroke="#161616" stroke-width="1.6" />
<line x1="478.24" y1="319.41" x2="484.04" y2="319.41" stroke="#161616" stroke-width="1.6" />
<line x1="485.35" y1="283.13" x2="485.35" y2="317.83" stroke="#161616" stroke-width="1.25" />
<line x1="482.45" y1="283.13" x2="488.25" y2="283.13" stroke="#161616" stroke-width="1.6" />
<line x1="482.45" y1="317.83" x2="488.25" y2="317.83" stroke="#161616" stroke-width="1.6" />
<line x1="489.56" y1="280.05" x2="489.56" y2="316.17" stroke="#161616" stroke-width="1.25" />
<line x1="486.66" y1="280.05" x2="492.46" y2="280.05" stroke="#161616" stroke-width="1.6" />
<line x1="486.66" y1="316.17" x2="492.46" y2="316.17" stroke="#161616" stroke-width="1.6" />
<line x1="493.77" y1="277.38" x2="493.77" y2="314.93" stroke="#161616" stroke-width="1.25" />
<line x1="490.87" y1="277.38" x2="496.67" y2="277.38" stroke="#161616" stroke-width="1.6" />
<line x1="490.87" y1="314.93" x2="496.67" y2="314.93" stroke="#161616" stroke-width="1.6" />
<line x1="497.98" y1="274.88" x2="497.98" y2="313.86" stroke="#161616" stroke-width="1.25" />
<line x1="495.08" y1="274.88" x2="500.88" y2="274.88" stroke="#161616" stroke-width="1.6" />
<line x1="495.08" y1="313.86" x2="500.88" y2="313.86" stroke="#161616" stroke-width="1.6" />
<line x1="502.19" y1="272.28" x2="502.19" y2="312.72" stroke="#161616" stroke-width="1.25" />
<line x1="499.29" y1="272.28" x2="505.09" y2="272.28" stroke="#161616" stroke-width="1.6" />
<line x1="499.29" y1="312.72" x2="505.09" y2="312.72" stroke="#161616" stroke-width="1.6" />
<polyline points="379.8,384.54 384.01,382.8 388.22,381.03 392.43,379.28 396.64,377.59 400.85,376.02 405.06,374.54 409.27,373.11 413.48,371.79 417.69,370.61 421.9,369.64 426.11,368.91 430.32,368.38 434.53,368.01 438.74,367.73 442.95,367.51 447.16,367.37 451.37,367.33 455.58,367.37 459.79,367.44 464,367.51 468.21,367.58 472.42,367.69 476.63,367.81 480.84,367.93 485.05,368.04 489.26,368.18 493.47,368.31 497.68,368.44 501.89,368.58" fill="none" stroke="#a8a4a6" stroke-width="2.6" stroke-linejoin="round"/>
<polyline points="379.8,384.54 384.01,381.19 388.22,377.79 392.43,374.41 396.64,371.14 400.85,368.04 405.06,365.12 409.27,362.32 413.48,359.64 417.69,357.11 421.9,354.74 426.11,352.51 430.32,350.42 434.53,348.47 438.74,346.72 442.95,345.17 447.16,343.84 451.37,342.73 455.58,341.8 459.79,341.02 464,340.38 468.21,339.9 472.42,339.61 476.63,339.45 480.84,339.37 485.05,339.32 489.26,339.34 493.47,339.48 497.68,339.68 501.89,339.85" fill="none" stroke="#3a3838" stroke-width="1.8" stroke-linejoin="round"/>
<polyline points="379.8,384.54 384.01,380.97 388.22,377.36 392.43,373.77 396.64,370.29 400.85,366.98 405.06,363.88 409.27,360.93 413.48,358.09 417.69,355.34 421.9,352.62 426.11,349.86 430.32,347.09 434.53,344.42 438.74,341.97 442.95,339.85 447.16,338.1 451.37,336.66 455.58,335.44 459.79,334.4 464,333.46 468.21,332.65 472.42,332 476.63,331.5 480.84,331.11 485.05,330.8 489.26,330.62 493.47,330.64 497.68,330.74 501.89,330.8" fill="none" stroke="#b3aeae" stroke-width="2.6" stroke-linejoin="round"/>
<polyline points="379.8,384.54 384.01,380.9 388.22,377.25 392.43,373.61 396.64,370 400.85,366.45 405.06,362.93 409.27,359.43 413.48,355.99 417.69,352.64 421.9,349.42 426.11,346.3 430.32,343.26 434.53,340.33 438.74,337.58 442.95,335.06 447.16,332.8 451.37,330.78 455.58,328.93 459.79,327.19 464,325.48 468.21,323.79 472.42,322.15 476.63,320.61 480.84,319.22 485.05,318.04 489.26,316.94 493.47,316.17 497.68,315.54 501.89,314.84" fill="none" stroke="#4a4646" stroke-width="2.2" stroke-linejoin="round"/>
<polyline points="379.8,384.54 384.01,380.93 388.22,377.33 392.43,373.72 396.64,370.1 400.85,366.45 405.06,362.76 409.27,359.04 413.48,355.3 417.69,351.56 421.9,347.83 426.11,344.05 430.32,340.23 434.53,336.43 438.74,332.73 442.95,329.21 447.16,325.88 451.37,322.7 455.58,319.64 459.79,316.68 464,313.78 468.21,310.9 472.42,308.05 476.63,305.31 480.84,302.77 485.05,300.48 489.26,298.11 493.47,296.16 497.68,294.37 501.89,292.5" fill="none" stroke="#111111" stroke-width="2.4" stroke-linejoin="round"/>
<text x="9.6" y="317.3" font-size="11" text-anchor="middle" fill="#222" transform="rotate(-90 9.6 317.3)">Fold Change</text>
<line x1="215.4" y1="265.6" x2="234.2" y2="265.6" stroke="#d8d0d8" stroke-width="3" />
<line x1="215.4" y1="279.3" x2="234.2" y2="279.3" stroke="#a09c9c" stroke-width="3" />
<line x1="215.4" y1="293" x2="234.2" y2="293" stroke="#5f5b5a" stroke-width="3" />
<line x1="215.4" y1="306.7" x2="234.2" y2="306.7" stroke="#0f0f0f" stroke-width="3" />
<text x="242.6" y="270.3" font-size="10.8" fill="#222">1 nM</text>
<text x="242.6" y="284" font-size="10.8" fill="#222">3 nM</text>
<text x="242.6" y="297.7" font-size="10.8" fill="#222">6 nM</text>
<text x="241" y="311.4" font-size="10.8" fill="#222">10 nM</text>
<text x="339.5" y="357.2" font-size="12" font-family='"Liberation Serif", serif' text-anchor="middle" fill="#222">&#167;</text>
<text x="511.3" y="374" font-size="12" font-family='"Liberation Serif", serif' text-anchor="middle" fill="#222">&#167;</text>
</svg>
</body></html>
